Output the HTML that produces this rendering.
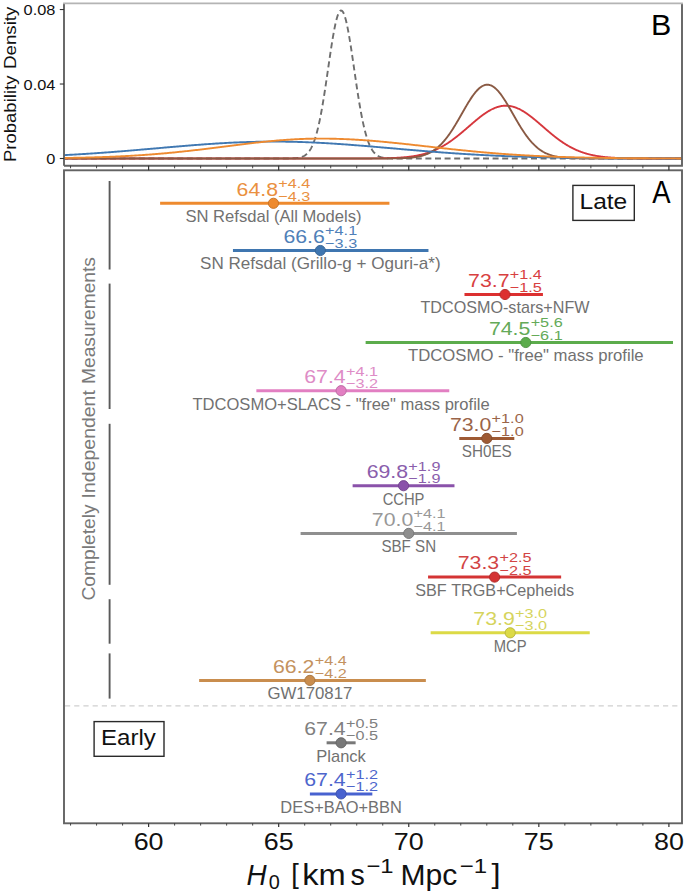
<!DOCTYPE html>
<html><head><meta charset="utf-8"><title>H0 measurements</title>
<style>html,body{margin:0;padding:0;background:#fff;overflow:hidden;} svg{display:block;} text{font-family:"Liberation Sans", sans-serif;font-kerning:none;}</style>
</head><body>
<svg width="685" height="895" viewBox="0 0 685 895"><clipPath id="cb"><rect x="64.0" y="3.4" width="618.0" height="162.29999999999998"/></clipPath>
<g clip-path="url(#cb)"><path d="M62.0,158.50 L62.5,158.50 L63.0,158.50 L63.5,158.50 L64.0,158.50 L64.5,158.50 L65.0,158.50 L65.5,158.50 L66.0,158.50 L66.5,158.50 L67.0,158.50 L67.5,158.50 L68.0,158.50 L68.5,158.50 L69.0,158.50 L69.5,158.50 L70.0,158.50 L70.5,158.50 L71.0,158.50 L71.5,158.50 L72.0,158.50 L72.5,158.50 L73.0,158.50 L73.5,158.50 L74.0,158.50 L74.5,158.50 L75.0,158.50 L75.5,158.50 L76.0,158.50 L76.5,158.50 L77.0,158.50 L77.5,158.50 L78.0,158.50 L78.5,158.50 L79.0,158.50 L79.5,158.50 L80.0,158.50 L80.5,158.50 L81.0,158.50 L81.5,158.50 L82.0,158.50 L82.5,158.50 L83.0,158.50 L83.5,158.50 L84.0,158.50 L84.5,158.50 L85.0,158.50 L85.5,158.50 L86.0,158.50 L86.5,158.50 L87.0,158.50 L87.5,158.50 L88.0,158.50 L88.5,158.50 L89.0,158.50 L89.5,158.50 L90.0,158.50 L90.5,158.50 L91.0,158.50 L91.5,158.50 L92.0,158.50 L92.5,158.50 L93.0,158.50 L93.5,158.50 L94.0,158.50 L94.5,158.50 L95.0,158.50 L95.5,158.50 L96.0,158.50 L96.5,158.50 L97.0,158.50 L97.5,158.50 L98.0,158.50 L98.5,158.50 L99.0,158.50 L99.5,158.50 L100.0,158.50 L100.5,158.50 L101.0,158.50 L101.5,158.50 L102.0,158.50 L102.5,158.50 L103.0,158.50 L103.5,158.50 L104.0,158.50 L104.5,158.50 L105.0,158.50 L105.5,158.50 L106.0,158.50 L106.5,158.50 L107.0,158.50 L107.5,158.50 L108.0,158.50 L108.5,158.50 L109.0,158.50 L109.5,158.50 L110.0,158.50 L110.5,158.50 L111.0,158.50 L111.5,158.50 L112.0,158.50 L112.5,158.50 L113.0,158.50 L113.5,158.50 L114.0,158.50 L114.5,158.50 L115.0,158.50 L115.5,158.50 L116.0,158.50 L116.5,158.50 L117.0,158.50 L117.5,158.50 L118.0,158.50 L118.5,158.50 L119.0,158.50 L119.5,158.50 L120.0,158.50 L120.5,158.50 L121.0,158.50 L121.5,158.50 L122.0,158.50 L122.5,158.50 L123.0,158.50 L123.5,158.50 L124.0,158.50 L124.5,158.50 L125.0,158.50 L125.5,158.50 L126.0,158.50 L126.5,158.50 L127.0,158.50 L127.5,158.50 L128.0,158.50 L128.5,158.50 L129.0,158.50 L129.5,158.50 L130.0,158.50 L130.5,158.50 L131.0,158.50 L131.5,158.50 L132.0,158.50 L132.5,158.50 L133.0,158.50 L133.5,158.50 L134.0,158.50 L134.5,158.50 L135.0,158.50 L135.5,158.50 L136.0,158.50 L136.5,158.50 L137.0,158.50 L137.5,158.50 L138.0,158.50 L138.5,158.50 L139.0,158.50 L139.5,158.50 L140.0,158.50 L140.5,158.50 L141.0,158.50 L141.5,158.50 L142.0,158.50 L142.5,158.50 L143.0,158.50 L143.5,158.50 L144.0,158.50 L144.5,158.50 L145.0,158.50 L145.5,158.50 L146.0,158.50 L146.5,158.50 L147.0,158.50 L147.5,158.50 L148.0,158.50 L148.5,158.50 L149.0,158.50 L149.5,158.50 L150.0,158.50 L150.5,158.50 L151.0,158.50 L151.5,158.50 L152.0,158.50 L152.5,158.50 L153.0,158.50 L153.5,158.50 L154.0,158.50 L154.5,158.50 L155.0,158.50 L155.5,158.50 L156.0,158.50 L156.5,158.50 L157.0,158.50 L157.5,158.50 L158.0,158.50 L158.5,158.50 L159.0,158.50 L159.5,158.50 L160.0,158.50 L160.5,158.50 L161.0,158.50 L161.5,158.50 L162.0,158.50 L162.5,158.50 L163.0,158.50 L163.5,158.50 L164.0,158.50 L164.5,158.50 L165.0,158.50 L165.5,158.50 L166.0,158.50 L166.5,158.50 L167.0,158.50 L167.5,158.50 L168.0,158.50 L168.5,158.50 L169.0,158.50 L169.5,158.50 L170.0,158.50 L170.5,158.50 L171.0,158.50 L171.5,158.50 L172.0,158.50 L172.5,158.50 L173.0,158.50 L173.5,158.50 L174.0,158.50 L174.5,158.50 L175.0,158.50 L175.5,158.50 L176.0,158.50 L176.5,158.50 L177.0,158.50 L177.5,158.50 L178.0,158.50 L178.5,158.50 L179.0,158.50 L179.5,158.50 L180.0,158.50 L180.5,158.50 L181.0,158.50 L181.5,158.50 L182.0,158.50 L182.5,158.50 L183.0,158.50 L183.5,158.50 L184.0,158.50 L184.5,158.50 L185.0,158.50 L185.5,158.50 L186.0,158.50 L186.5,158.50 L187.0,158.50 L187.5,158.50 L188.0,158.50 L188.5,158.50 L189.0,158.50 L189.5,158.50 L190.0,158.50 L190.5,158.50 L191.0,158.50 L191.5,158.50 L192.0,158.50 L192.5,158.50 L193.0,158.50 L193.5,158.50 L194.0,158.50 L194.5,158.50 L195.0,158.50 L195.5,158.50 L196.0,158.50 L196.5,158.50 L197.0,158.50 L197.5,158.50 L198.0,158.50 L198.5,158.50 L199.0,158.50 L199.5,158.50 L200.0,158.50 L200.5,158.50 L201.0,158.50 L201.5,158.50 L202.0,158.50 L202.5,158.50 L203.0,158.50 L203.5,158.50 L204.0,158.50 L204.5,158.50 L205.0,158.50 L205.5,158.50 L206.0,158.50 L206.5,158.50 L207.0,158.50 L207.5,158.50 L208.0,158.50 L208.5,158.50 L209.0,158.50 L209.5,158.50 L210.0,158.50 L210.5,158.50 L211.0,158.50 L211.5,158.50 L212.0,158.50 L212.5,158.50 L213.0,158.50 L213.5,158.50 L214.0,158.50 L214.5,158.50 L215.0,158.50 L215.5,158.50 L216.0,158.50 L216.5,158.50 L217.0,158.50 L217.5,158.50 L218.0,158.50 L218.5,158.50 L219.0,158.50 L219.5,158.50 L220.0,158.50 L220.5,158.50 L221.0,158.50 L221.5,158.50 L222.0,158.50 L222.5,158.50 L223.0,158.50 L223.5,158.50 L224.0,158.50 L224.5,158.50 L225.0,158.50 L225.5,158.50 L226.0,158.50 L226.5,158.50 L227.0,158.50 L227.5,158.50 L228.0,158.50 L228.5,158.50 L229.0,158.50 L229.5,158.50 L230.0,158.50 L230.5,158.50 L231.0,158.50 L231.5,158.50 L232.0,158.50 L232.5,158.50 L233.0,158.50 L233.5,158.50 L234.0,158.50 L234.5,158.50 L235.0,158.50 L235.5,158.50 L236.0,158.50 L236.5,158.50 L237.0,158.50 L237.5,158.50 L238.0,158.50 L238.5,158.50 L239.0,158.50 L239.5,158.50 L240.0,158.50 L240.5,158.50 L241.0,158.50 L241.5,158.50 L242.0,158.50 L242.5,158.50 L243.0,158.50 L243.5,158.50 L244.0,158.50 L244.5,158.50 L245.0,158.50 L245.5,158.50 L246.0,158.50 L246.5,158.50 L247.0,158.50 L247.5,158.50 L248.0,158.50 L248.5,158.50 L249.0,158.50 L249.5,158.50 L250.0,158.50 L250.5,158.50 L251.0,158.50 L251.5,158.50 L252.0,158.50 L252.5,158.50 L253.0,158.50 L253.5,158.50 L254.0,158.50 L254.5,158.50 L255.0,158.50 L255.5,158.50 L256.0,158.50 L256.5,158.50 L257.0,158.50 L257.5,158.50 L258.0,158.50 L258.5,158.50 L259.0,158.50 L259.5,158.50 L260.0,158.50 L260.5,158.50 L261.0,158.50 L261.5,158.50 L262.0,158.50 L262.5,158.50 L263.0,158.50 L263.5,158.50 L264.0,158.50 L264.5,158.50 L265.0,158.50 L265.5,158.50 L266.0,158.50 L266.5,158.50 L267.0,158.50 L267.5,158.50 L268.0,158.50 L268.5,158.50 L269.0,158.50 L269.5,158.50 L270.0,158.50 L270.5,158.50 L271.0,158.50 L271.5,158.50 L272.0,158.50 L272.5,158.50 L273.0,158.50 L273.5,158.50 L274.0,158.50 L274.5,158.50 L275.0,158.50 L275.5,158.50 L276.0,158.50 L276.5,158.50 L277.0,158.50 L277.5,158.50 L278.0,158.50 L278.5,158.50 L279.0,158.50 L279.5,158.50 L280.0,158.50 L280.5,158.50 L281.0,158.50 L281.5,158.50 L282.0,158.50 L282.5,158.49 L283.0,158.49 L283.5,158.49 L284.0,158.49 L284.5,158.49 L285.0,158.49 L285.5,158.48 L286.0,158.48 L286.5,158.48 L287.0,158.47 L287.5,158.47 L288.0,158.46 L288.5,158.46 L289.0,158.45 L289.5,158.44 L290.0,158.43 L290.5,158.42 L291.0,158.41 L291.5,158.40 L292.0,158.38 L292.5,158.36 L293.0,158.34 L293.5,158.32 L294.0,158.29 L294.5,158.26 L295.0,158.22 L295.5,158.18 L296.0,158.14 L296.5,158.09 L297.0,158.03 L297.5,157.96 L298.0,157.89 L298.5,157.81 L299.0,157.72 L299.5,157.61 L300.0,157.50 L300.5,157.37 L301.0,157.23 L301.5,157.07 L302.0,156.89 L302.5,156.69 L303.0,156.48 L303.5,156.24 L304.0,155.97 L304.5,155.68 L305.0,155.36 L305.5,155.01 L306.0,154.63 L306.5,154.21 L307.0,153.75 L307.5,153.25 L308.0,152.70 L308.5,152.11 L309.0,151.47 L309.5,150.78 L310.0,150.03 L310.5,149.22 L311.0,148.35 L311.5,147.41 L312.0,146.40 L312.5,145.33 L313.0,144.18 L313.5,142.95 L314.0,141.64 L314.5,140.24 L315.0,138.76 L315.5,137.20 L316.0,135.54 L316.5,133.79 L317.0,131.94 L317.5,130.00 L318.0,127.97 L318.5,125.83 L319.0,123.60 L319.5,121.27 L320.0,118.85 L320.5,116.33 L321.0,113.71 L321.5,111.00 L322.0,108.21 L322.5,105.32 L323.0,102.36 L323.5,99.31 L324.0,96.20 L324.5,93.02 L325.0,89.77 L325.5,86.47 L326.0,83.13 L326.5,79.75 L327.0,76.33 L327.5,72.90 L328.0,69.45 L328.5,66.00 L329.0,62.56 L329.5,59.13 L330.0,55.74 L330.5,52.39 L331.0,49.09 L331.5,45.86 L332.0,42.70 L332.5,39.62 L333.0,36.65 L333.5,33.79 L334.0,31.04 L334.5,28.43 L335.0,25.96 L335.5,23.65 L336.0,21.50 L336.5,19.51 L337.0,17.71 L337.5,16.09 L338.0,14.67 L338.5,13.45 L339.0,12.44 L339.5,11.63 L340.0,11.04 L340.5,10.66 L341.0,10.51 L341.5,10.57 L342.0,10.85 L342.5,11.34 L343.0,12.05 L343.5,12.98 L344.0,14.11 L344.5,15.44 L345.0,16.97 L345.5,18.69 L346.0,20.59 L346.5,22.67 L347.0,24.92 L347.5,27.32 L348.0,29.87 L348.5,32.55 L349.0,35.36 L349.5,38.29 L350.0,41.32 L350.5,44.44 L351.0,47.65 L351.5,50.92 L352.0,54.25 L352.5,57.62 L353.0,61.03 L353.5,64.47 L354.0,67.92 L354.5,71.37 L355.0,74.81 L355.5,78.23 L356.0,81.63 L356.5,84.99 L357.0,88.31 L357.5,91.58 L358.0,94.79 L358.5,97.94 L359.0,101.02 L359.5,104.02 L360.0,106.94 L360.5,109.77 L361.0,112.52 L361.5,115.18 L362.0,117.74 L362.5,120.21 L363.0,122.58 L363.5,124.85 L364.0,127.03 L364.5,129.11 L365.0,131.09 L365.5,132.98 L366.0,134.77 L366.5,136.47 L367.0,138.08 L367.5,139.60 L368.0,141.03 L368.5,142.38 L369.0,143.64 L369.5,144.83 L370.0,145.94 L370.5,146.97 L371.0,147.94 L371.5,148.84 L372.0,149.67 L372.5,150.45 L373.0,151.17 L373.5,151.83 L374.0,152.45 L374.5,153.01 L375.0,153.53 L375.5,154.01 L376.0,154.44 L376.5,154.84 L377.0,155.21 L377.5,155.54 L378.0,155.85 L378.5,156.12 L379.0,156.37 L379.5,156.60 L380.0,156.80 L380.5,156.99 L381.0,157.16 L381.5,157.31 L382.0,157.44 L382.5,157.56 L383.0,157.67 L383.5,157.77 L384.0,157.86 L384.5,157.93 L385.0,158.00 L385.5,158.06 L386.0,158.12 L386.5,158.16 L387.0,158.21 L387.5,158.24 L388.0,158.28 L388.5,158.31 L389.0,158.33 L389.5,158.35 L390.0,158.37 L390.5,158.39 L391.0,158.41 L391.5,158.42 L392.0,158.43 L392.5,158.44 L393.0,158.45 L393.5,158.46 L394.0,158.46 L394.5,158.47 L395.0,158.47 L395.5,158.48 L396.0,158.48 L396.5,158.48 L397.0,158.49 L397.5,158.49 L398.0,158.49 L398.5,158.49 L399.0,158.49 L399.5,158.49 L400.0,158.49 L400.5,158.50 L401.0,158.50 L401.5,158.50 L402.0,158.50 L402.5,158.50 L403.0,158.50 L403.5,158.50 L404.0,158.50 L404.5,158.50 L405.0,158.50 L405.5,158.50 L406.0,158.50 L406.5,158.50 L407.0,158.50 L407.5,158.50 L408.0,158.50 L408.5,158.50 L409.0,158.50 L409.5,158.50 L410.0,158.50 L410.5,158.50 L411.0,158.50 L411.5,158.50 L412.0,158.50 L412.5,158.50 L413.0,158.50 L413.5,158.50 L414.0,158.50 L414.5,158.50 L415.0,158.50 L415.5,158.50 L416.0,158.50 L416.5,158.50 L417.0,158.50 L417.5,158.50 L418.0,158.50 L418.5,158.50 L419.0,158.50 L419.5,158.50 L420.0,158.50 L420.5,158.50 L421.0,158.50 L421.5,158.50 L422.0,158.50 L422.5,158.50 L423.0,158.50 L423.5,158.50 L424.0,158.50 L424.5,158.50 L425.0,158.50 L425.5,158.50 L426.0,158.50 L426.5,158.50 L427.0,158.50 L427.5,158.50 L428.0,158.50 L428.5,158.50 L429.0,158.50 L429.5,158.50 L430.0,158.50 L430.5,158.50 L431.0,158.50 L431.5,158.50 L432.0,158.50 L432.5,158.50 L433.0,158.50 L433.5,158.50 L434.0,158.50 L434.5,158.50 L435.0,158.50 L435.5,158.50 L436.0,158.50 L436.5,158.50 L437.0,158.50 L437.5,158.50 L438.0,158.50 L438.5,158.50 L439.0,158.50 L439.5,158.50 L440.0,158.50 L440.5,158.50 L441.0,158.50 L441.5,158.50 L442.0,158.50 L442.5,158.50 L443.0,158.50 L443.5,158.50 L444.0,158.50 L444.5,158.50 L445.0,158.50 L445.5,158.50 L446.0,158.50 L446.5,158.50 L447.0,158.50 L447.5,158.50 L448.0,158.50 L448.5,158.50 L449.0,158.50 L449.5,158.50 L450.0,158.50 L450.5,158.50 L451.0,158.50 L451.5,158.50 L452.0,158.50 L452.5,158.50 L453.0,158.50 L453.5,158.50 L454.0,158.50 L454.5,158.50 L455.0,158.50 L455.5,158.50 L456.0,158.50 L456.5,158.50 L457.0,158.50 L457.5,158.50 L458.0,158.50 L458.5,158.50 L459.0,158.50 L459.5,158.50 L460.0,158.50 L460.5,158.50 L461.0,158.50 L461.5,158.50 L462.0,158.50 L462.5,158.50 L463.0,158.50 L463.5,158.50 L464.0,158.50 L464.5,158.50 L465.0,158.50 L465.5,158.50 L466.0,158.50 L466.5,158.50 L467.0,158.50 L467.5,158.50 L468.0,158.50 L468.5,158.50 L469.0,158.50 L469.5,158.50 L470.0,158.50 L470.5,158.50 L471.0,158.50 L471.5,158.50 L472.0,158.50 L472.5,158.50 L473.0,158.50 L473.5,158.50 L474.0,158.50 L474.5,158.50 L475.0,158.50 L475.5,158.50 L476.0,158.50 L476.5,158.50 L477.0,158.50 L477.5,158.50 L478.0,158.50 L478.5,158.50 L479.0,158.50 L479.5,158.50 L480.0,158.50 L480.5,158.50 L481.0,158.50 L481.5,158.50 L482.0,158.50 L482.5,158.50 L483.0,158.50 L483.5,158.50 L484.0,158.50 L484.5,158.50 L485.0,158.50 L485.5,158.50 L486.0,158.50 L486.5,158.50 L487.0,158.50 L487.5,158.50 L488.0,158.50 L488.5,158.50 L489.0,158.50 L489.5,158.50 L490.0,158.50 L490.5,158.50 L491.0,158.50 L491.5,158.50 L492.0,158.50 L492.5,158.50 L493.0,158.50 L493.5,158.50 L494.0,158.50 L494.5,158.50 L495.0,158.50 L495.5,158.50 L496.0,158.50 L496.5,158.50 L497.0,158.50 L497.5,158.50 L498.0,158.50 L498.5,158.50 L499.0,158.50 L499.5,158.50 L500.0,158.50 L500.5,158.50 L501.0,158.50 L501.5,158.50 L502.0,158.50 L502.5,158.50 L503.0,158.50 L503.5,158.50 L504.0,158.50 L504.5,158.50 L505.0,158.50 L505.5,158.50 L506.0,158.50 L506.5,158.50 L507.0,158.50 L507.5,158.50 L508.0,158.50 L508.5,158.50 L509.0,158.50 L509.5,158.50 L510.0,158.50 L510.5,158.50 L511.0,158.50 L511.5,158.50 L512.0,158.50 L512.5,158.50 L513.0,158.50 L513.5,158.50 L514.0,158.50 L514.5,158.50 L515.0,158.50 L515.5,158.50 L516.0,158.50 L516.5,158.50 L517.0,158.50 L517.5,158.50 L518.0,158.50 L518.5,158.50 L519.0,158.50 L519.5,158.50 L520.0,158.50 L520.5,158.50 L521.0,158.50 L521.5,158.50 L522.0,158.50 L522.5,158.50 L523.0,158.50 L523.5,158.50 L524.0,158.50 L524.5,158.50 L525.0,158.50 L525.5,158.50 L526.0,158.50 L526.5,158.50 L527.0,158.50 L527.5,158.50 L528.0,158.50 L528.5,158.50 L529.0,158.50 L529.5,158.50 L530.0,158.50 L530.5,158.50 L531.0,158.50 L531.5,158.50 L532.0,158.50 L532.5,158.50 L533.0,158.50 L533.5,158.50 L534.0,158.50 L534.5,158.50 L535.0,158.50 L535.5,158.50 L536.0,158.50 L536.5,158.50 L537.0,158.50 L537.5,158.50 L538.0,158.50 L538.5,158.50 L539.0,158.50 L539.5,158.50 L540.0,158.50 L540.5,158.50 L541.0,158.50 L541.5,158.50 L542.0,158.50 L542.5,158.50 L543.0,158.50 L543.5,158.50 L544.0,158.50 L544.5,158.50 L545.0,158.50 L545.5,158.50 L546.0,158.50 L546.5,158.50 L547.0,158.50 L547.5,158.50 L548.0,158.50 L548.5,158.50 L549.0,158.50 L549.5,158.50 L550.0,158.50 L550.5,158.50 L551.0,158.50 L551.5,158.50 L552.0,158.50 L552.5,158.50 L553.0,158.50 L553.5,158.50 L554.0,158.50 L554.5,158.50 L555.0,158.50 L555.5,158.50 L556.0,158.50 L556.5,158.50 L557.0,158.50 L557.5,158.50 L558.0,158.50 L558.5,158.50 L559.0,158.50 L559.5,158.50 L560.0,158.50 L560.5,158.50 L561.0,158.50 L561.5,158.50 L562.0,158.50 L562.5,158.50 L563.0,158.50 L563.5,158.50 L564.0,158.50 L564.5,158.50 L565.0,158.50 L565.5,158.50 L566.0,158.50 L566.5,158.50 L567.0,158.50 L567.5,158.50 L568.0,158.50 L568.5,158.50 L569.0,158.50 L569.5,158.50 L570.0,158.50 L570.5,158.50 L571.0,158.50 L571.5,158.50 L572.0,158.50 L572.5,158.50 L573.0,158.50 L573.5,158.50 L574.0,158.50 L574.5,158.50 L575.0,158.50 L575.5,158.50 L576.0,158.50 L576.5,158.50 L577.0,158.50 L577.5,158.50 L578.0,158.50 L578.5,158.50 L579.0,158.50 L579.5,158.50 L580.0,158.50 L580.5,158.50 L581.0,158.50 L581.5,158.50 L582.0,158.50 L582.5,158.50 L583.0,158.50 L583.5,158.50 L584.0,158.50 L584.5,158.50 L585.0,158.50 L585.5,158.50 L586.0,158.50 L586.5,158.50 L587.0,158.50 L587.5,158.50 L588.0,158.50 L588.5,158.50 L589.0,158.50 L589.5,158.50 L590.0,158.50 L590.5,158.50 L591.0,158.50 L591.5,158.50 L592.0,158.50 L592.5,158.50 L593.0,158.50 L593.5,158.50 L594.0,158.50 L594.5,158.50 L595.0,158.50 L595.5,158.50 L596.0,158.50 L596.5,158.50 L597.0,158.50 L597.5,158.50 L598.0,158.50 L598.5,158.50 L599.0,158.50 L599.5,158.50 L600.0,158.50 L600.5,158.50 L601.0,158.50 L601.5,158.50 L602.0,158.50 L602.5,158.50 L603.0,158.50 L603.5,158.50 L604.0,158.50 L604.5,158.50 L605.0,158.50 L605.5,158.50 L606.0,158.50 L606.5,158.50 L607.0,158.50 L607.5,158.50 L608.0,158.50 L608.5,158.50 L609.0,158.50 L609.5,158.50 L610.0,158.50 L610.5,158.50 L611.0,158.50 L611.5,158.50 L612.0,158.50 L612.5,158.50 L613.0,158.50 L613.5,158.50 L614.0,158.50 L614.5,158.50 L615.0,158.50 L615.5,158.50 L616.0,158.50 L616.5,158.50 L617.0,158.50 L617.5,158.50 L618.0,158.50 L618.5,158.50 L619.0,158.50 L619.5,158.50 L620.0,158.50 L620.5,158.50 L621.0,158.50 L621.5,158.50 L622.0,158.50 L622.5,158.50 L623.0,158.50 L623.5,158.50 L624.0,158.50 L624.5,158.50 L625.0,158.50 L625.5,158.50 L626.0,158.50 L626.5,158.50 L627.0,158.50 L627.5,158.50 L628.0,158.50 L628.5,158.50 L629.0,158.50 L629.5,158.50 L630.0,158.50 L630.5,158.50 L631.0,158.50 L631.5,158.50 L632.0,158.50 L632.5,158.50 L633.0,158.50 L633.5,158.50 L634.0,158.50 L634.5,158.50 L635.0,158.50 L635.5,158.50 L636.0,158.50 L636.5,158.50 L637.0,158.50 L637.5,158.50 L638.0,158.50 L638.5,158.50 L639.0,158.50 L639.5,158.50 L640.0,158.50 L640.5,158.50 L641.0,158.50 L641.5,158.50 L642.0,158.50 L642.5,158.50 L643.0,158.50 L643.5,158.50 L644.0,158.50 L644.5,158.50 L645.0,158.50 L645.5,158.50 L646.0,158.50 L646.5,158.50 L647.0,158.50 L647.5,158.50 L648.0,158.50 L648.5,158.50 L649.0,158.50 L649.5,158.50 L650.0,158.50 L650.5,158.50 L651.0,158.50 L651.5,158.50 L652.0,158.50 L652.5,158.50 L653.0,158.50 L653.5,158.50 L654.0,158.50 L654.5,158.50 L655.0,158.50 L655.5,158.50 L656.0,158.50 L656.5,158.50 L657.0,158.50 L657.5,158.50 L658.0,158.50 L658.5,158.50 L659.0,158.50 L659.5,158.50 L660.0,158.50 L660.5,158.50 L661.0,158.50 L661.5,158.50 L662.0,158.50 L662.5,158.50 L663.0,158.50 L663.5,158.50 L664.0,158.50 L664.5,158.50 L665.0,158.50 L665.5,158.50 L666.0,158.50 L666.5,158.50 L667.0,158.50 L667.5,158.50 L668.0,158.50 L668.5,158.50 L669.0,158.50 L669.5,158.50 L670.0,158.50 L670.5,158.50 L671.0,158.50 L671.5,158.50 L672.0,158.50 L672.5,158.50 L673.0,158.50 L673.5,158.50 L674.0,158.50 L674.5,158.50 L675.0,158.50 L675.5,158.50 L676.0,158.50 L676.5,158.50 L677.0,158.50 L677.5,158.50 L678.0,158.50 L678.5,158.50 L679.0,158.50 L679.5,158.50 L680.0,158.50 L680.5,158.50 L681.0,158.50 L681.5,158.50 L682.0,158.50 L682.5,158.50 L683.0,158.50 L683.5,158.50 L684.0,158.50" fill="none" stroke="#6e6e6e" stroke-width="1.9" stroke-dasharray="6,3.6"/><path d="M62.0,158.50 L62.5,158.50 L63.0,158.50 L63.5,158.50 L64.0,158.50 L64.5,158.50 L65.0,158.50 L65.5,158.50 L66.0,158.50 L66.5,158.50 L67.0,158.50 L67.5,158.50 L68.0,158.50 L68.5,158.50 L69.0,158.50 L69.5,158.50 L70.0,158.50 L70.5,158.50 L71.0,158.50 L71.5,158.50 L72.0,158.50 L72.5,158.50 L73.0,158.50 L73.5,158.50 L74.0,158.50 L74.5,158.50 L75.0,158.50 L75.5,158.50 L76.0,158.50 L76.5,158.50 L77.0,158.50 L77.5,158.50 L78.0,158.50 L78.5,158.50 L79.0,158.50 L79.5,158.50 L80.0,158.50 L80.5,158.50 L81.0,158.50 L81.5,158.50 L82.0,158.50 L82.5,158.50 L83.0,158.50 L83.5,158.50 L84.0,158.50 L84.5,158.50 L85.0,158.50 L85.5,158.50 L86.0,158.50 L86.5,158.50 L87.0,158.50 L87.5,158.50 L88.0,158.50 L88.5,158.50 L89.0,158.50 L89.5,158.50 L90.0,158.50 L90.5,158.50 L91.0,158.50 L91.5,158.50 L92.0,158.50 L92.5,158.50 L93.0,158.50 L93.5,158.50 L94.0,158.50 L94.5,158.50 L95.0,158.50 L95.5,158.50 L96.0,158.50 L96.5,158.50 L97.0,158.50 L97.5,158.50 L98.0,158.50 L98.5,158.50 L99.0,158.50 L99.5,158.50 L100.0,158.50 L100.5,158.50 L101.0,158.50 L101.5,158.50 L102.0,158.50 L102.5,158.50 L103.0,158.50 L103.5,158.50 L104.0,158.50 L104.5,158.50 L105.0,158.50 L105.5,158.50 L106.0,158.50 L106.5,158.50 L107.0,158.50 L107.5,158.50 L108.0,158.50 L108.5,158.50 L109.0,158.50 L109.5,158.50 L110.0,158.50 L110.5,158.50 L111.0,158.50 L111.5,158.50 L112.0,158.50 L112.5,158.50 L113.0,158.50 L113.5,158.50 L114.0,158.50 L114.5,158.50 L115.0,158.50 L115.5,158.50 L116.0,158.50 L116.5,158.50 L117.0,158.50 L117.5,158.50 L118.0,158.50 L118.5,158.50 L119.0,158.50 L119.5,158.50 L120.0,158.50 L120.5,158.50 L121.0,158.50 L121.5,158.50 L122.0,158.50 L122.5,158.50 L123.0,158.50 L123.5,158.50 L124.0,158.50 L124.5,158.50 L125.0,158.50 L125.5,158.50 L126.0,158.50 L126.5,158.50 L127.0,158.50 L127.5,158.50 L128.0,158.50 L128.5,158.50 L129.0,158.50 L129.5,158.50 L130.0,158.50 L130.5,158.50 L131.0,158.50 L131.5,158.50 L132.0,158.50 L132.5,158.50 L133.0,158.50 L133.5,158.50 L134.0,158.50 L134.5,158.50 L135.0,158.50 L135.5,158.50 L136.0,158.50 L136.5,158.50 L137.0,158.50 L137.5,158.50 L138.0,158.50 L138.5,158.50 L139.0,158.50 L139.5,158.50 L140.0,158.50 L140.5,158.50 L141.0,158.50 L141.5,158.50 L142.0,158.50 L142.5,158.50 L143.0,158.50 L143.5,158.50 L144.0,158.50 L144.5,158.50 L145.0,158.50 L145.5,158.50 L146.0,158.50 L146.5,158.50 L147.0,158.50 L147.5,158.50 L148.0,158.50 L148.5,158.50 L149.0,158.50 L149.5,158.50 L150.0,158.50 L150.5,158.50 L151.0,158.50 L151.5,158.50 L152.0,158.50 L152.5,158.50 L153.0,158.50 L153.5,158.50 L154.0,158.50 L154.5,158.50 L155.0,158.50 L155.5,158.50 L156.0,158.50 L156.5,158.50 L157.0,158.50 L157.5,158.50 L158.0,158.50 L158.5,158.50 L159.0,158.50 L159.5,158.50 L160.0,158.50 L160.5,158.50 L161.0,158.50 L161.5,158.50 L162.0,158.50 L162.5,158.50 L163.0,158.50 L163.5,158.50 L164.0,158.50 L164.5,158.50 L165.0,158.50 L165.5,158.50 L166.0,158.50 L166.5,158.50 L167.0,158.50 L167.5,158.50 L168.0,158.50 L168.5,158.50 L169.0,158.50 L169.5,158.50 L170.0,158.50 L170.5,158.50 L171.0,158.50 L171.5,158.50 L172.0,158.50 L172.5,158.50 L173.0,158.50 L173.5,158.50 L174.0,158.50 L174.5,158.50 L175.0,158.50 L175.5,158.50 L176.0,158.50 L176.5,158.50 L177.0,158.50 L177.5,158.50 L178.0,158.50 L178.5,158.50 L179.0,158.50 L179.5,158.50 L180.0,158.50 L180.5,158.50 L181.0,158.50 L181.5,158.50 L182.0,158.50 L182.5,158.50 L183.0,158.50 L183.5,158.50 L184.0,158.50 L184.5,158.50 L185.0,158.50 L185.5,158.50 L186.0,158.50 L186.5,158.50 L187.0,158.50 L187.5,158.50 L188.0,158.50 L188.5,158.50 L189.0,158.50 L189.5,158.50 L190.0,158.50 L190.5,158.50 L191.0,158.50 L191.5,158.50 L192.0,158.50 L192.5,158.50 L193.0,158.50 L193.5,158.50 L194.0,158.50 L194.5,158.50 L195.0,158.50 L195.5,158.50 L196.0,158.50 L196.5,158.50 L197.0,158.50 L197.5,158.50 L198.0,158.50 L198.5,158.50 L199.0,158.50 L199.5,158.50 L200.0,158.50 L200.5,158.50 L201.0,158.50 L201.5,158.50 L202.0,158.50 L202.5,158.50 L203.0,158.50 L203.5,158.50 L204.0,158.50 L204.5,158.50 L205.0,158.50 L205.5,158.50 L206.0,158.50 L206.5,158.50 L207.0,158.50 L207.5,158.50 L208.0,158.50 L208.5,158.50 L209.0,158.50 L209.5,158.50 L210.0,158.50 L210.5,158.50 L211.0,158.50 L211.5,158.50 L212.0,158.50 L212.5,158.50 L213.0,158.50 L213.5,158.50 L214.0,158.50 L214.5,158.50 L215.0,158.50 L215.5,158.50 L216.0,158.50 L216.5,158.50 L217.0,158.50 L217.5,158.50 L218.0,158.50 L218.5,158.50 L219.0,158.50 L219.5,158.50 L220.0,158.50 L220.5,158.50 L221.0,158.50 L221.5,158.50 L222.0,158.50 L222.5,158.50 L223.0,158.50 L223.5,158.50 L224.0,158.50 L224.5,158.50 L225.0,158.50 L225.5,158.50 L226.0,158.50 L226.5,158.50 L227.0,158.50 L227.5,158.50 L228.0,158.50 L228.5,158.50 L229.0,158.50 L229.5,158.50 L230.0,158.50 L230.5,158.50 L231.0,158.50 L231.5,158.50 L232.0,158.50 L232.5,158.50 L233.0,158.50 L233.5,158.50 L234.0,158.50 L234.5,158.50 L235.0,158.50 L235.5,158.50 L236.0,158.50 L236.5,158.50 L237.0,158.50 L237.5,158.50 L238.0,158.50 L238.5,158.50 L239.0,158.50 L239.5,158.50 L240.0,158.50 L240.5,158.50 L241.0,158.50 L241.5,158.50 L242.0,158.50 L242.5,158.50 L243.0,158.50 L243.5,158.50 L244.0,158.50 L244.5,158.50 L245.0,158.50 L245.5,158.50 L246.0,158.50 L246.5,158.50 L247.0,158.50 L247.5,158.50 L248.0,158.50 L248.5,158.50 L249.0,158.50 L249.5,158.50 L250.0,158.50 L250.5,158.50 L251.0,158.50 L251.5,158.50 L252.0,158.50 L252.5,158.50 L253.0,158.50 L253.5,158.50 L254.0,158.50 L254.5,158.50 L255.0,158.50 L255.5,158.50 L256.0,158.50 L256.5,158.50 L257.0,158.50 L257.5,158.50 L258.0,158.50 L258.5,158.50 L259.0,158.50 L259.5,158.50 L260.0,158.50 L260.5,158.50 L261.0,158.50 L261.5,158.50 L262.0,158.50 L262.5,158.50 L263.0,158.50 L263.5,158.50 L264.0,158.50 L264.5,158.50 L265.0,158.50 L265.5,158.50 L266.0,158.50 L266.5,158.50 L267.0,158.50 L267.5,158.50 L268.0,158.50 L268.5,158.50 L269.0,158.50 L269.5,158.50 L270.0,158.50 L270.5,158.50 L271.0,158.50 L271.5,158.50 L272.0,158.50 L272.5,158.50 L273.0,158.50 L273.5,158.50 L274.0,158.50 L274.5,158.50 L275.0,158.50 L275.5,158.50 L276.0,158.50 L276.5,158.50 L277.0,158.50 L277.5,158.50 L278.0,158.50 L278.5,158.50 L279.0,158.50 L279.5,158.50 L280.0,158.50 L280.5,158.50 L281.0,158.50 L281.5,158.50 L282.0,158.50 L282.5,158.50 L283.0,158.50 L283.5,158.50 L284.0,158.50 L284.5,158.50 L285.0,158.50 L285.5,158.50 L286.0,158.50 L286.5,158.50 L287.0,158.50 L287.5,158.50 L288.0,158.50 L288.5,158.50 L289.0,158.50 L289.5,158.50 L290.0,158.50 L290.5,158.50 L291.0,158.50 L291.5,158.50 L292.0,158.50 L292.5,158.50 L293.0,158.50 L293.5,158.50 L294.0,158.50 L294.5,158.50 L295.0,158.50 L295.5,158.50 L296.0,158.50 L296.5,158.50 L297.0,158.50 L297.5,158.50 L298.0,158.50 L298.5,158.50 L299.0,158.50 L299.5,158.50 L300.0,158.50 L300.5,158.50 L301.0,158.50 L301.5,158.50 L302.0,158.50 L302.5,158.50 L303.0,158.50 L303.5,158.50 L304.0,158.50 L304.5,158.50 L305.0,158.50 L305.5,158.50 L306.0,158.50 L306.5,158.50 L307.0,158.50 L307.5,158.50 L308.0,158.50 L308.5,158.50 L309.0,158.50 L309.5,158.50 L310.0,158.50 L310.5,158.50 L311.0,158.50 L311.5,158.50 L312.0,158.50 L312.5,158.50 L313.0,158.50 L313.5,158.50 L314.0,158.50 L314.5,158.50 L315.0,158.50 L315.5,158.50 L316.0,158.50 L316.5,158.50 L317.0,158.50 L317.5,158.50 L318.0,158.50 L318.5,158.50 L319.0,158.50 L319.5,158.50 L320.0,158.50 L320.5,158.50 L321.0,158.50 L321.5,158.50 L322.0,158.50 L322.5,158.50 L323.0,158.50 L323.5,158.50 L324.0,158.50 L324.5,158.50 L325.0,158.50 L325.5,158.50 L326.0,158.50 L326.5,158.50 L327.0,158.50 L327.5,158.50 L328.0,158.50 L328.5,158.50 L329.0,158.50 L329.5,158.50 L330.0,158.50 L330.5,158.50 L331.0,158.50 L331.5,158.50 L332.0,158.50 L332.5,158.50 L333.0,158.50 L333.5,158.50 L334.0,158.50 L334.5,158.50 L335.0,158.50 L335.5,158.50 L336.0,158.50 L336.5,158.50 L337.0,158.50 L337.5,158.50 L338.0,158.50 L338.5,158.50 L339.0,158.50 L339.5,158.50 L340.0,158.50 L340.5,158.50 L341.0,158.50 L341.5,158.50 L342.0,158.50 L342.5,158.50 L343.0,158.50 L343.5,158.50 L344.0,158.50 L344.5,158.50 L345.0,158.50 L345.5,158.50 L346.0,158.50 L346.5,158.50 L347.0,158.49 L347.5,158.49 L348.0,158.49 L348.5,158.49 L349.0,158.49 L349.5,158.49 L350.0,158.49 L350.5,158.49 L351.0,158.49 L351.5,158.49 L352.0,158.49 L352.5,158.49 L353.0,158.49 L353.5,158.49 L354.0,158.49 L354.5,158.49 L355.0,158.49 L355.5,158.49 L356.0,158.49 L356.5,158.48 L357.0,158.48 L357.5,158.48 L358.0,158.48 L358.5,158.48 L359.0,158.48 L359.5,158.48 L360.0,158.48 L360.5,158.48 L361.0,158.48 L361.5,158.47 L362.0,158.47 L362.5,158.47 L363.0,158.47 L363.5,158.47 L364.0,158.47 L364.5,158.46 L365.0,158.46 L365.5,158.46 L366.0,158.46 L366.5,158.46 L367.0,158.45 L367.5,158.45 L368.0,158.45 L368.5,158.45 L369.0,158.44 L369.5,158.44 L370.0,158.44 L370.5,158.44 L371.0,158.43 L371.5,158.43 L372.0,158.43 L372.5,158.42 L373.0,158.42 L373.5,158.41 L374.0,158.41 L374.5,158.40 L375.0,158.40 L375.5,158.39 L376.0,158.39 L376.5,158.38 L377.0,158.38 L377.5,158.37 L378.0,158.37 L378.5,158.36 L379.0,158.35 L379.5,158.35 L380.0,158.34 L380.5,158.33 L381.0,158.32 L381.5,158.32 L382.0,158.31 L382.5,158.30 L383.0,158.29 L383.5,158.28 L384.0,158.27 L384.5,158.26 L385.0,158.25 L385.5,158.24 L386.0,158.22 L386.5,158.21 L387.0,158.20 L387.5,158.19 L388.0,158.17 L388.5,158.16 L389.0,158.14 L389.5,158.13 L390.0,158.11 L390.5,158.09 L391.0,158.08 L391.5,158.06 L392.0,158.04 L392.5,158.02 L393.0,158.00 L393.5,157.98 L394.0,157.96 L394.5,157.94 L395.0,157.91 L395.5,157.89 L396.0,157.86 L396.5,157.84 L397.0,157.81 L397.5,157.78 L398.0,157.75 L398.5,157.72 L399.0,157.69 L399.5,157.66 L400.0,157.63 L400.5,157.59 L401.0,157.55 L401.5,157.52 L402.0,157.48 L402.5,157.44 L403.0,157.40 L403.5,157.36 L404.0,157.31 L404.5,157.27 L405.0,157.22 L405.5,157.17 L406.0,157.13 L406.5,157.07 L407.0,157.02 L407.5,156.97 L408.0,156.91 L408.5,156.85 L409.0,156.79 L409.5,156.73 L410.0,156.67 L410.5,156.60 L411.0,156.54 L411.5,156.47 L412.0,156.40 L412.5,156.32 L413.0,156.25 L413.5,156.17 L414.0,156.09 L414.5,156.01 L415.0,155.92 L415.5,155.84 L416.0,155.75 L416.5,155.65 L417.0,155.56 L417.5,155.46 L418.0,155.36 L418.5,155.26 L419.0,155.16 L419.5,155.05 L420.0,154.94 L420.5,154.83 L421.0,154.71 L421.5,154.59 L422.0,154.47 L422.5,154.34 L423.0,154.21 L423.5,154.08 L424.0,153.95 L424.5,153.81 L425.0,153.67 L425.5,153.52 L426.0,153.37 L426.5,153.22 L427.0,153.07 L427.5,152.91 L428.0,152.75 L428.5,152.58 L429.0,152.41 L429.5,152.24 L430.0,152.06 L430.5,151.88 L431.0,151.70 L431.5,151.51 L432.0,151.32 L432.5,151.12 L433.0,150.92 L433.5,150.72 L434.0,150.51 L434.5,150.30 L435.0,150.08 L435.5,149.86 L436.0,149.63 L436.5,149.41 L437.0,149.17 L437.5,148.94 L438.0,148.69 L438.5,148.45 L439.0,148.20 L439.5,147.94 L440.0,147.69 L440.5,147.42 L441.0,147.16 L441.5,146.88 L442.0,146.61 L442.5,146.33 L443.0,146.04 L443.5,145.76 L444.0,145.46 L444.5,145.17 L445.0,144.86 L445.5,144.56 L446.0,144.25 L446.5,143.93 L447.0,143.62 L447.5,143.29 L448.0,142.97 L448.5,142.63 L449.0,142.30 L449.5,141.96 L450.0,141.62 L450.5,141.27 L451.0,140.92 L451.5,140.56 L452.0,140.21 L452.5,139.84 L453.0,139.48 L453.5,139.11 L454.0,138.73 L454.5,138.36 L455.0,137.98 L455.5,137.59 L456.0,137.21 L456.5,136.82 L457.0,136.42 L457.5,136.03 L458.0,135.63 L458.5,135.23 L459.0,134.82 L459.5,134.42 L460.0,134.01 L460.5,133.59 L461.0,133.18 L461.5,132.76 L462.0,132.34 L462.5,131.92 L463.0,131.50 L463.5,131.08 L464.0,130.65 L464.5,130.22 L465.0,129.80 L465.5,129.37 L466.0,128.94 L466.5,128.51 L467.0,128.07 L467.5,127.64 L468.0,127.21 L468.5,126.77 L469.0,126.34 L469.5,125.91 L470.0,125.47 L470.5,125.04 L471.0,124.61 L471.5,124.18 L472.0,123.75 L472.5,123.32 L473.0,122.89 L473.5,122.46 L474.0,122.04 L474.5,121.61 L475.0,121.19 L475.5,120.77 L476.0,120.35 L476.5,119.94 L477.0,119.53 L477.5,119.12 L478.0,118.71 L478.5,118.31 L479.0,117.91 L479.5,117.51 L480.0,117.12 L480.5,116.73 L481.0,116.34 L481.5,115.96 L482.0,115.59 L482.5,115.21 L483.0,114.85 L483.5,114.48 L484.0,114.13 L484.5,113.78 L485.0,113.43 L485.5,113.09 L486.0,112.76 L486.5,112.43 L487.0,112.10 L487.5,111.79 L488.0,111.48 L488.5,111.18 L489.0,110.88 L489.5,110.59 L490.0,110.31 L490.5,110.03 L491.0,109.76 L491.5,109.50 L492.0,109.25 L492.5,109.01 L493.0,108.77 L493.5,108.54 L494.0,108.32 L494.5,108.11 L495.0,107.90 L495.5,107.71 L496.0,107.52 L496.5,107.34 L497.0,107.17 L497.5,107.01 L498.0,106.86 L498.5,106.72 L499.0,106.58 L499.5,106.46 L500.0,106.34 L500.5,106.24 L501.0,106.14 L501.5,106.05 L502.0,105.98 L502.5,105.91 L503.0,105.85 L503.5,105.80 L504.0,105.76 L504.5,105.73 L505.0,105.71 L505.5,105.70 L506.0,105.70 L506.5,105.71 L507.0,105.73 L507.5,105.76 L508.0,105.79 L508.5,105.84 L509.0,105.90 L509.5,105.97 L510.0,106.04 L510.5,106.13 L511.0,106.22 L511.5,106.33 L512.0,106.44 L512.5,106.56 L513.0,106.70 L513.5,106.84 L514.0,106.99 L514.5,107.15 L515.0,107.32 L515.5,107.49 L516.0,107.68 L516.5,107.87 L517.0,108.08 L517.5,108.29 L518.0,108.51 L518.5,108.74 L519.0,108.97 L519.5,109.22 L520.0,109.47 L520.5,109.73 L521.0,109.99 L521.5,110.27 L522.0,110.55 L522.5,110.84 L523.0,111.13 L523.5,111.43 L524.0,111.74 L524.5,112.06 L525.0,112.38 L525.5,112.71 L526.0,113.04 L526.5,113.38 L527.0,113.73 L527.5,114.08 L528.0,114.43 L528.5,114.79 L529.0,115.16 L529.5,115.53 L530.0,115.91 L530.5,116.29 L531.0,116.67 L531.5,117.06 L532.0,117.45 L532.5,117.85 L533.0,118.25 L533.5,118.65 L534.0,119.06 L534.5,119.47 L535.0,119.88 L535.5,120.29 L536.0,120.71 L536.5,121.13 L537.0,121.55 L537.5,121.97 L538.0,122.40 L538.5,122.83 L539.0,123.26 L539.5,123.68 L540.0,124.12 L540.5,124.55 L541.0,124.98 L541.5,125.41 L542.0,125.84 L542.5,126.28 L543.0,126.71 L543.5,127.14 L544.0,127.58 L544.5,128.01 L545.0,128.44 L545.5,128.87 L546.0,129.31 L546.5,129.73 L547.0,130.16 L547.5,130.59 L548.0,131.02 L548.5,131.44 L549.0,131.86 L549.5,132.28 L550.0,132.70 L550.5,133.12 L551.0,133.53 L551.5,133.95 L552.0,134.36 L552.5,134.76 L553.0,135.17 L553.5,135.57 L554.0,135.97 L554.5,136.37 L555.0,136.76 L555.5,137.15 L556.0,137.54 L556.5,137.92 L557.0,138.30 L557.5,138.68 L558.0,139.05 L558.5,139.42 L559.0,139.79 L559.5,140.15 L560.0,140.51 L560.5,140.87 L561.0,141.22 L561.5,141.57 L562.0,141.91 L562.5,142.25 L563.0,142.59 L563.5,142.92 L564.0,143.25 L564.5,143.57 L565.0,143.89 L565.5,144.20 L566.0,144.51 L566.5,144.82 L567.0,145.12 L567.5,145.42 L568.0,145.71 L568.5,146.00 L569.0,146.29 L569.5,146.57 L570.0,146.85 L570.5,147.12 L571.0,147.39 L571.5,147.65 L572.0,147.91 L572.5,148.16 L573.0,148.41 L573.5,148.66 L574.0,148.90 L574.5,149.14 L575.0,149.37 L575.5,149.60 L576.0,149.83 L576.5,150.05 L577.0,150.27 L577.5,150.48 L578.0,150.69 L578.5,150.89 L579.0,151.09 L579.5,151.29 L580.0,151.48 L580.5,151.67 L581.0,151.86 L581.5,152.04 L582.0,152.21 L582.5,152.39 L583.0,152.56 L583.5,152.72 L584.0,152.89 L584.5,153.05 L585.0,153.20 L585.5,153.35 L586.0,153.50 L586.5,153.65 L587.0,153.79 L587.5,153.93 L588.0,154.06 L588.5,154.19 L589.0,154.32 L589.5,154.45 L590.0,154.57 L590.5,154.69 L591.0,154.81 L591.5,154.92 L592.0,155.03 L592.5,155.14 L593.0,155.25 L593.5,155.35 L594.0,155.45 L594.5,155.55 L595.0,155.64 L595.5,155.73 L596.0,155.82 L596.5,155.91 L597.0,156.00 L597.5,156.08 L598.0,156.16 L598.5,156.24 L599.0,156.31 L599.5,156.39 L600.0,156.46 L600.5,156.53 L601.0,156.59 L601.5,156.66 L602.0,156.72 L602.5,156.78 L603.0,156.84 L603.5,156.90 L604.0,156.96 L604.5,157.01 L605.0,157.07 L605.5,157.12 L606.0,157.17 L606.5,157.22 L607.0,157.26 L607.5,157.31 L608.0,157.35 L608.5,157.39 L609.0,157.43 L609.5,157.47 L610.0,157.51 L610.5,157.55 L611.0,157.59 L611.5,157.62 L612.0,157.65 L612.5,157.69 L613.0,157.72 L613.5,157.75 L614.0,157.78 L614.5,157.80 L615.0,157.83 L615.5,157.86 L616.0,157.88 L616.5,157.91 L617.0,157.93 L617.5,157.95 L618.0,157.98 L618.5,158.00 L619.0,158.02 L619.5,158.04 L620.0,158.06 L620.5,158.07 L621.0,158.09 L621.5,158.11 L622.0,158.13 L622.5,158.14 L623.0,158.16 L623.5,158.17 L624.0,158.18 L624.5,158.20 L625.0,158.21 L625.5,158.22 L626.0,158.24 L626.5,158.25 L627.0,158.26 L627.5,158.27 L628.0,158.28 L628.5,158.29 L629.0,158.30 L629.5,158.31 L630.0,158.31 L630.5,158.32 L631.0,158.33 L631.5,158.34 L632.0,158.35 L632.5,158.35 L633.0,158.36 L633.5,158.37 L634.0,158.37 L634.5,158.38 L635.0,158.38 L635.5,158.39 L636.0,158.39 L636.5,158.40 L637.0,158.40 L637.5,158.41 L638.0,158.41 L638.5,158.42 L639.0,158.42 L639.5,158.42 L640.0,158.43 L640.5,158.43 L641.0,158.43 L641.5,158.44 L642.0,158.44 L642.5,158.44 L643.0,158.45 L643.5,158.45 L644.0,158.45 L644.5,158.45 L645.0,158.46 L645.5,158.46 L646.0,158.46 L646.5,158.46 L647.0,158.46 L647.5,158.47 L648.0,158.47 L648.5,158.47 L649.0,158.47 L649.5,158.47 L650.0,158.47 L650.5,158.48 L651.0,158.48 L651.5,158.48 L652.0,158.48 L652.5,158.48 L653.0,158.48 L653.5,158.48 L654.0,158.48 L654.5,158.48 L655.0,158.48 L655.5,158.49 L656.0,158.49 L656.5,158.49 L657.0,158.49 L657.5,158.49 L658.0,158.49 L658.5,158.49 L659.0,158.49 L659.5,158.49 L660.0,158.49 L660.5,158.49 L661.0,158.49 L661.5,158.49 L662.0,158.49 L662.5,158.49 L663.0,158.49 L663.5,158.49 L664.0,158.49 L664.5,158.49 L665.0,158.50 L665.5,158.50 L666.0,158.50 L666.5,158.50 L667.0,158.50 L667.5,158.50 L668.0,158.50 L668.5,158.50 L669.0,158.50 L669.5,158.50 L670.0,158.50 L670.5,158.50 L671.0,158.50 L671.5,158.50 L672.0,158.50 L672.5,158.50 L673.0,158.50 L673.5,158.50 L674.0,158.50 L674.5,158.50 L675.0,158.50 L675.5,158.50 L676.0,158.50 L676.5,158.50 L677.0,158.50 L677.5,158.50 L678.0,158.50 L678.5,158.50 L679.0,158.50 L679.5,158.50 L680.0,158.50 L680.5,158.50 L681.0,158.50 L681.5,158.50 L682.0,158.50 L682.5,158.50 L683.0,158.50 L683.5,158.50 L684.0,158.50" fill="none" stroke="#d6373d" stroke-width="1.9"/><path d="M62.0,158.50 L62.5,158.50 L63.0,158.50 L63.5,158.50 L64.0,158.50 L64.5,158.50 L65.0,158.50 L65.5,158.50 L66.0,158.50 L66.5,158.50 L67.0,158.50 L67.5,158.50 L68.0,158.50 L68.5,158.50 L69.0,158.50 L69.5,158.50 L70.0,158.50 L70.5,158.50 L71.0,158.50 L71.5,158.50 L72.0,158.50 L72.5,158.50 L73.0,158.50 L73.5,158.50 L74.0,158.50 L74.5,158.50 L75.0,158.50 L75.5,158.50 L76.0,158.50 L76.5,158.50 L77.0,158.50 L77.5,158.50 L78.0,158.50 L78.5,158.50 L79.0,158.50 L79.5,158.50 L80.0,158.50 L80.5,158.50 L81.0,158.50 L81.5,158.50 L82.0,158.50 L82.5,158.50 L83.0,158.50 L83.5,158.50 L84.0,158.50 L84.5,158.50 L85.0,158.50 L85.5,158.50 L86.0,158.50 L86.5,158.50 L87.0,158.50 L87.5,158.50 L88.0,158.50 L88.5,158.50 L89.0,158.50 L89.5,158.50 L90.0,158.50 L90.5,158.50 L91.0,158.50 L91.5,158.50 L92.0,158.50 L92.5,158.50 L93.0,158.50 L93.5,158.50 L94.0,158.50 L94.5,158.50 L95.0,158.50 L95.5,158.50 L96.0,158.50 L96.5,158.50 L97.0,158.50 L97.5,158.50 L98.0,158.50 L98.5,158.50 L99.0,158.50 L99.5,158.50 L100.0,158.50 L100.5,158.50 L101.0,158.50 L101.5,158.50 L102.0,158.50 L102.5,158.50 L103.0,158.50 L103.5,158.50 L104.0,158.50 L104.5,158.50 L105.0,158.50 L105.5,158.50 L106.0,158.50 L106.5,158.50 L107.0,158.50 L107.5,158.50 L108.0,158.50 L108.5,158.50 L109.0,158.50 L109.5,158.50 L110.0,158.50 L110.5,158.50 L111.0,158.50 L111.5,158.50 L112.0,158.50 L112.5,158.50 L113.0,158.50 L113.5,158.50 L114.0,158.50 L114.5,158.50 L115.0,158.50 L115.5,158.50 L116.0,158.50 L116.5,158.50 L117.0,158.50 L117.5,158.50 L118.0,158.50 L118.5,158.50 L119.0,158.50 L119.5,158.50 L120.0,158.50 L120.5,158.50 L121.0,158.50 L121.5,158.50 L122.0,158.50 L122.5,158.50 L123.0,158.50 L123.5,158.50 L124.0,158.50 L124.5,158.50 L125.0,158.50 L125.5,158.50 L126.0,158.50 L126.5,158.50 L127.0,158.50 L127.5,158.50 L128.0,158.50 L128.5,158.50 L129.0,158.50 L129.5,158.50 L130.0,158.50 L130.5,158.50 L131.0,158.50 L131.5,158.50 L132.0,158.50 L132.5,158.50 L133.0,158.50 L133.5,158.50 L134.0,158.50 L134.5,158.50 L135.0,158.50 L135.5,158.50 L136.0,158.50 L136.5,158.50 L137.0,158.50 L137.5,158.50 L138.0,158.50 L138.5,158.50 L139.0,158.50 L139.5,158.50 L140.0,158.50 L140.5,158.50 L141.0,158.50 L141.5,158.50 L142.0,158.50 L142.5,158.50 L143.0,158.50 L143.5,158.50 L144.0,158.50 L144.5,158.50 L145.0,158.50 L145.5,158.50 L146.0,158.50 L146.5,158.50 L147.0,158.50 L147.5,158.50 L148.0,158.50 L148.5,158.50 L149.0,158.50 L149.5,158.50 L150.0,158.50 L150.5,158.50 L151.0,158.50 L151.5,158.50 L152.0,158.50 L152.5,158.50 L153.0,158.50 L153.5,158.50 L154.0,158.50 L154.5,158.50 L155.0,158.50 L155.5,158.50 L156.0,158.50 L156.5,158.50 L157.0,158.50 L157.5,158.50 L158.0,158.50 L158.5,158.50 L159.0,158.50 L159.5,158.50 L160.0,158.50 L160.5,158.50 L161.0,158.50 L161.5,158.50 L162.0,158.50 L162.5,158.50 L163.0,158.50 L163.5,158.50 L164.0,158.50 L164.5,158.50 L165.0,158.50 L165.5,158.50 L166.0,158.50 L166.5,158.50 L167.0,158.50 L167.5,158.50 L168.0,158.50 L168.5,158.50 L169.0,158.50 L169.5,158.50 L170.0,158.50 L170.5,158.50 L171.0,158.50 L171.5,158.50 L172.0,158.50 L172.5,158.50 L173.0,158.50 L173.5,158.50 L174.0,158.50 L174.5,158.50 L175.0,158.50 L175.5,158.50 L176.0,158.50 L176.5,158.50 L177.0,158.50 L177.5,158.50 L178.0,158.50 L178.5,158.50 L179.0,158.50 L179.5,158.50 L180.0,158.50 L180.5,158.50 L181.0,158.50 L181.5,158.50 L182.0,158.50 L182.5,158.50 L183.0,158.50 L183.5,158.50 L184.0,158.50 L184.5,158.50 L185.0,158.50 L185.5,158.50 L186.0,158.50 L186.5,158.50 L187.0,158.50 L187.5,158.50 L188.0,158.50 L188.5,158.50 L189.0,158.50 L189.5,158.50 L190.0,158.50 L190.5,158.50 L191.0,158.50 L191.5,158.50 L192.0,158.50 L192.5,158.50 L193.0,158.50 L193.5,158.50 L194.0,158.50 L194.5,158.50 L195.0,158.50 L195.5,158.50 L196.0,158.50 L196.5,158.50 L197.0,158.50 L197.5,158.50 L198.0,158.50 L198.5,158.50 L199.0,158.50 L199.5,158.50 L200.0,158.50 L200.5,158.50 L201.0,158.50 L201.5,158.50 L202.0,158.50 L202.5,158.50 L203.0,158.50 L203.5,158.50 L204.0,158.50 L204.5,158.50 L205.0,158.50 L205.5,158.50 L206.0,158.50 L206.5,158.50 L207.0,158.50 L207.5,158.50 L208.0,158.50 L208.5,158.50 L209.0,158.50 L209.5,158.50 L210.0,158.50 L210.5,158.50 L211.0,158.50 L211.5,158.50 L212.0,158.50 L212.5,158.50 L213.0,158.50 L213.5,158.50 L214.0,158.50 L214.5,158.50 L215.0,158.50 L215.5,158.50 L216.0,158.50 L216.5,158.50 L217.0,158.50 L217.5,158.50 L218.0,158.50 L218.5,158.50 L219.0,158.50 L219.5,158.50 L220.0,158.50 L220.5,158.50 L221.0,158.50 L221.5,158.50 L222.0,158.50 L222.5,158.50 L223.0,158.50 L223.5,158.50 L224.0,158.50 L224.5,158.50 L225.0,158.50 L225.5,158.50 L226.0,158.50 L226.5,158.50 L227.0,158.50 L227.5,158.50 L228.0,158.50 L228.5,158.50 L229.0,158.50 L229.5,158.50 L230.0,158.50 L230.5,158.50 L231.0,158.50 L231.5,158.50 L232.0,158.50 L232.5,158.50 L233.0,158.50 L233.5,158.50 L234.0,158.50 L234.5,158.50 L235.0,158.50 L235.5,158.50 L236.0,158.50 L236.5,158.50 L237.0,158.50 L237.5,158.50 L238.0,158.50 L238.5,158.50 L239.0,158.50 L239.5,158.50 L240.0,158.50 L240.5,158.50 L241.0,158.50 L241.5,158.50 L242.0,158.50 L242.5,158.50 L243.0,158.50 L243.5,158.50 L244.0,158.50 L244.5,158.50 L245.0,158.50 L245.5,158.50 L246.0,158.50 L246.5,158.50 L247.0,158.50 L247.5,158.50 L248.0,158.50 L248.5,158.50 L249.0,158.50 L249.5,158.50 L250.0,158.50 L250.5,158.50 L251.0,158.50 L251.5,158.50 L252.0,158.50 L252.5,158.50 L253.0,158.50 L253.5,158.50 L254.0,158.50 L254.5,158.50 L255.0,158.50 L255.5,158.50 L256.0,158.50 L256.5,158.50 L257.0,158.50 L257.5,158.50 L258.0,158.50 L258.5,158.50 L259.0,158.50 L259.5,158.50 L260.0,158.50 L260.5,158.50 L261.0,158.50 L261.5,158.50 L262.0,158.50 L262.5,158.50 L263.0,158.50 L263.5,158.50 L264.0,158.50 L264.5,158.50 L265.0,158.50 L265.5,158.50 L266.0,158.50 L266.5,158.50 L267.0,158.50 L267.5,158.50 L268.0,158.50 L268.5,158.50 L269.0,158.50 L269.5,158.50 L270.0,158.50 L270.5,158.50 L271.0,158.50 L271.5,158.50 L272.0,158.50 L272.5,158.50 L273.0,158.50 L273.5,158.50 L274.0,158.50 L274.5,158.50 L275.0,158.50 L275.5,158.50 L276.0,158.50 L276.5,158.50 L277.0,158.50 L277.5,158.50 L278.0,158.50 L278.5,158.50 L279.0,158.50 L279.5,158.50 L280.0,158.50 L280.5,158.50 L281.0,158.50 L281.5,158.50 L282.0,158.50 L282.5,158.50 L283.0,158.50 L283.5,158.50 L284.0,158.50 L284.5,158.50 L285.0,158.50 L285.5,158.50 L286.0,158.50 L286.5,158.50 L287.0,158.50 L287.5,158.50 L288.0,158.50 L288.5,158.50 L289.0,158.50 L289.5,158.50 L290.0,158.50 L290.5,158.50 L291.0,158.50 L291.5,158.50 L292.0,158.50 L292.5,158.50 L293.0,158.50 L293.5,158.50 L294.0,158.50 L294.5,158.50 L295.0,158.50 L295.5,158.50 L296.0,158.50 L296.5,158.50 L297.0,158.50 L297.5,158.50 L298.0,158.50 L298.5,158.50 L299.0,158.50 L299.5,158.50 L300.0,158.50 L300.5,158.50 L301.0,158.50 L301.5,158.50 L302.0,158.50 L302.5,158.50 L303.0,158.50 L303.5,158.50 L304.0,158.50 L304.5,158.50 L305.0,158.50 L305.5,158.50 L306.0,158.50 L306.5,158.50 L307.0,158.50 L307.5,158.50 L308.0,158.50 L308.5,158.50 L309.0,158.50 L309.5,158.50 L310.0,158.50 L310.5,158.50 L311.0,158.50 L311.5,158.50 L312.0,158.50 L312.5,158.50 L313.0,158.50 L313.5,158.50 L314.0,158.50 L314.5,158.50 L315.0,158.50 L315.5,158.50 L316.0,158.50 L316.5,158.50 L317.0,158.50 L317.5,158.50 L318.0,158.50 L318.5,158.50 L319.0,158.50 L319.5,158.50 L320.0,158.50 L320.5,158.50 L321.0,158.50 L321.5,158.50 L322.0,158.50 L322.5,158.50 L323.0,158.50 L323.5,158.50 L324.0,158.50 L324.5,158.50 L325.0,158.50 L325.5,158.50 L326.0,158.50 L326.5,158.50 L327.0,158.50 L327.5,158.50 L328.0,158.50 L328.5,158.50 L329.0,158.50 L329.5,158.50 L330.0,158.50 L330.5,158.50 L331.0,158.50 L331.5,158.50 L332.0,158.50 L332.5,158.50 L333.0,158.50 L333.5,158.50 L334.0,158.50 L334.5,158.50 L335.0,158.50 L335.5,158.50 L336.0,158.50 L336.5,158.50 L337.0,158.50 L337.5,158.50 L338.0,158.50 L338.5,158.50 L339.0,158.50 L339.5,158.50 L340.0,158.50 L340.5,158.50 L341.0,158.50 L341.5,158.50 L342.0,158.50 L342.5,158.50 L343.0,158.50 L343.5,158.50 L344.0,158.50 L344.5,158.50 L345.0,158.50 L345.5,158.50 L346.0,158.50 L346.5,158.50 L347.0,158.50 L347.5,158.50 L348.0,158.50 L348.5,158.50 L349.0,158.50 L349.5,158.50 L350.0,158.50 L350.5,158.50 L351.0,158.50 L351.5,158.50 L352.0,158.50 L352.5,158.50 L353.0,158.50 L353.5,158.50 L354.0,158.50 L354.5,158.50 L355.0,158.50 L355.5,158.50 L356.0,158.50 L356.5,158.50 L357.0,158.50 L357.5,158.50 L358.0,158.50 L358.5,158.50 L359.0,158.50 L359.5,158.50 L360.0,158.50 L360.5,158.50 L361.0,158.50 L361.5,158.50 L362.0,158.50 L362.5,158.50 L363.0,158.50 L363.5,158.50 L364.0,158.50 L364.5,158.50 L365.0,158.50 L365.5,158.50 L366.0,158.50 L366.5,158.50 L367.0,158.50 L367.5,158.50 L368.0,158.50 L368.5,158.50 L369.0,158.50 L369.5,158.50 L370.0,158.50 L370.5,158.50 L371.0,158.50 L371.5,158.50 L372.0,158.50 L372.5,158.50 L373.0,158.50 L373.5,158.50 L374.0,158.50 L374.5,158.50 L375.0,158.50 L375.5,158.50 L376.0,158.49 L376.5,158.49 L377.0,158.49 L377.5,158.49 L378.0,158.49 L378.5,158.49 L379.0,158.49 L379.5,158.49 L380.0,158.49 L380.5,158.49 L381.0,158.49 L381.5,158.49 L382.0,158.49 L382.5,158.48 L383.0,158.48 L383.5,158.48 L384.0,158.48 L384.5,158.48 L385.0,158.48 L385.5,158.47 L386.0,158.47 L386.5,158.47 L387.0,158.47 L387.5,158.47 L388.0,158.46 L388.5,158.46 L389.0,158.46 L389.5,158.45 L390.0,158.45 L390.5,158.45 L391.0,158.44 L391.5,158.44 L392.0,158.43 L392.5,158.43 L393.0,158.42 L393.5,158.42 L394.0,158.41 L394.5,158.40 L395.0,158.40 L395.5,158.39 L396.0,158.38 L396.5,158.37 L397.0,158.36 L397.5,158.35 L398.0,158.34 L398.5,158.33 L399.0,158.32 L399.5,158.30 L400.0,158.29 L400.5,158.28 L401.0,158.26 L401.5,158.24 L402.0,158.23 L402.5,158.21 L403.0,158.19 L403.5,158.17 L404.0,158.15 L404.5,158.12 L405.0,158.10 L405.5,158.07 L406.0,158.04 L406.5,158.01 L407.0,157.98 L407.5,157.95 L408.0,157.92 L408.5,157.88 L409.0,157.84 L409.5,157.80 L410.0,157.76 L410.5,157.71 L411.0,157.66 L411.5,157.61 L412.0,157.56 L412.5,157.50 L413.0,157.45 L413.5,157.38 L414.0,157.32 L414.5,157.25 L415.0,157.18 L415.5,157.10 L416.0,157.02 L416.5,156.94 L417.0,156.85 L417.5,156.76 L418.0,156.67 L418.5,156.57 L419.0,156.46 L419.5,156.35 L420.0,156.24 L420.5,156.12 L421.0,155.99 L421.5,155.86 L422.0,155.73 L422.5,155.59 L423.0,155.44 L423.5,155.28 L424.0,155.12 L424.5,154.95 L425.0,154.78 L425.5,154.60 L426.0,154.41 L426.5,154.21 L427.0,154.01 L427.5,153.79 L428.0,153.57 L428.5,153.34 L429.0,153.11 L429.5,152.86 L430.0,152.60 L430.5,152.34 L431.0,152.07 L431.5,151.78 L432.0,151.49 L432.5,151.18 L433.0,150.87 L433.5,150.55 L434.0,150.21 L434.5,149.87 L435.0,149.51 L435.5,149.14 L436.0,148.77 L436.5,148.38 L437.0,147.97 L437.5,147.56 L438.0,147.14 L438.5,146.70 L439.0,146.25 L439.5,145.79 L440.0,145.31 L440.5,144.83 L441.0,144.33 L441.5,143.82 L442.0,143.29 L442.5,142.76 L443.0,142.21 L443.5,141.65 L444.0,141.07 L444.5,140.49 L445.0,139.89 L445.5,139.27 L446.0,138.65 L446.5,138.01 L447.0,137.36 L447.5,136.70 L448.0,136.03 L448.5,135.34 L449.0,134.64 L449.5,133.93 L450.0,133.21 L450.5,132.48 L451.0,131.74 L451.5,130.99 L452.0,130.23 L452.5,129.45 L453.0,128.67 L453.5,127.88 L454.0,127.08 L454.5,126.27 L455.0,125.45 L455.5,124.62 L456.0,123.79 L456.5,122.95 L457.0,122.11 L457.5,121.25 L458.0,120.40 L458.5,119.54 L459.0,118.67 L459.5,117.80 L460.0,116.93 L460.5,116.05 L461.0,115.18 L461.5,114.30 L462.0,113.42 L462.5,112.55 L463.0,111.67 L463.5,110.79 L464.0,109.92 L464.5,109.05 L465.0,108.19 L465.5,107.32 L466.0,106.47 L466.5,105.62 L467.0,104.77 L467.5,103.94 L468.0,103.11 L468.5,102.29 L469.0,101.49 L469.5,100.69 L470.0,99.90 L470.5,99.13 L471.0,98.37 L471.5,97.62 L472.0,96.88 L472.5,96.17 L473.0,95.46 L473.5,94.78 L474.0,94.11 L474.5,93.46 L475.0,92.83 L475.5,92.21 L476.0,91.62 L476.5,91.05 L477.0,90.50 L477.5,89.97 L478.0,89.47 L478.5,88.98 L479.0,88.52 L479.5,88.09 L480.0,87.68 L480.5,87.29 L481.0,86.93 L481.5,86.60 L482.0,86.29 L482.5,86.00 L483.0,85.75 L483.5,85.52 L484.0,85.32 L484.5,85.15 L485.0,85.00 L485.5,84.89 L486.0,84.80 L486.5,84.74 L487.0,84.71 L487.5,84.70 L488.0,84.73 L488.5,84.78 L489.0,84.86 L489.5,84.97 L490.0,85.11 L490.5,85.27 L491.0,85.47 L491.5,85.69 L492.0,85.94 L492.5,86.21 L493.0,86.51 L493.5,86.84 L494.0,87.19 L494.5,87.57 L495.0,87.98 L495.5,88.41 L496.0,88.86 L496.5,89.34 L497.0,89.84 L497.5,90.36 L498.0,90.90 L498.5,91.47 L499.0,92.06 L499.5,92.67 L500.0,93.29 L500.5,93.94 L501.0,94.60 L501.5,95.28 L502.0,95.98 L502.5,96.69 L503.0,97.42 L503.5,98.17 L504.0,98.93 L504.5,99.70 L505.0,100.48 L505.5,101.28 L506.0,102.08 L506.5,102.90 L507.0,103.72 L507.5,104.56 L508.0,105.40 L508.5,106.25 L509.0,107.10 L509.5,107.96 L510.0,108.82 L510.5,109.69 L511.0,110.57 L511.5,111.44 L512.0,112.32 L512.5,113.19 L513.0,114.07 L513.5,114.95 L514.0,115.83 L514.5,116.70 L515.0,117.57 L515.5,118.44 L516.0,119.31 L516.5,120.17 L517.0,121.03 L517.5,121.88 L518.0,122.73 L518.5,123.57 L519.0,124.41 L519.5,125.23 L520.0,126.05 L520.5,126.87 L521.0,127.67 L521.5,128.46 L522.0,129.25 L522.5,130.02 L523.0,130.79 L523.5,131.55 L524.0,132.29 L524.5,133.02 L525.0,133.75 L525.5,134.46 L526.0,135.16 L526.5,135.85 L527.0,136.53 L527.5,137.19 L528.0,137.84 L528.5,138.48 L529.0,139.11 L529.5,139.73 L530.0,140.33 L530.5,140.92 L531.0,141.50 L531.5,142.06 L532.0,142.62 L532.5,143.15 L533.0,143.68 L533.5,144.20 L534.0,144.70 L534.5,145.19 L535.0,145.66 L535.5,146.13 L536.0,146.58 L536.5,147.02 L537.0,147.45 L537.5,147.87 L538.0,148.27 L538.5,148.66 L539.0,149.05 L539.5,149.42 L540.0,149.78 L540.5,150.12 L541.0,150.46 L541.5,150.79 L542.0,151.10 L542.5,151.41 L543.0,151.71 L543.5,151.99 L544.0,152.27 L544.5,152.54 L545.0,152.79 L545.5,153.04 L546.0,153.28 L546.5,153.51 L547.0,153.74 L547.5,153.95 L548.0,154.16 L548.5,154.36 L549.0,154.55 L549.5,154.73 L550.0,154.91 L550.5,155.08 L551.0,155.24 L551.5,155.40 L552.0,155.55 L552.5,155.69 L553.0,155.83 L553.5,155.96 L554.0,156.09 L554.5,156.21 L555.0,156.32 L555.5,156.44 L556.0,156.54 L556.5,156.64 L557.0,156.74 L557.5,156.83 L558.0,156.92 L558.5,157.00 L559.0,157.08 L559.5,157.16 L560.0,157.23 L560.5,157.30 L561.0,157.37 L561.5,157.43 L562.0,157.49 L562.5,157.55 L563.0,157.60 L563.5,157.65 L564.0,157.70 L564.5,157.75 L565.0,157.79 L565.5,157.83 L566.0,157.87 L566.5,157.91 L567.0,157.94 L567.5,157.98 L568.0,158.01 L568.5,158.04 L569.0,158.06 L569.5,158.09 L570.0,158.12 L570.5,158.14 L571.0,158.16 L571.5,158.18 L572.0,158.20 L572.5,158.22 L573.0,158.24 L573.5,158.26 L574.0,158.27 L574.5,158.29 L575.0,158.30 L575.5,158.31 L576.0,158.33 L576.5,158.34 L577.0,158.35 L577.5,158.36 L578.0,158.37 L578.5,158.38 L579.0,158.39 L579.5,158.39 L580.0,158.40 L580.5,158.41 L581.0,158.41 L581.5,158.42 L582.0,158.43 L582.5,158.43 L583.0,158.44 L583.5,158.44 L584.0,158.44 L584.5,158.45 L585.0,158.45 L585.5,158.46 L586.0,158.46 L586.5,158.46 L587.0,158.46 L587.5,158.47 L588.0,158.47 L588.5,158.47 L589.0,158.47 L589.5,158.48 L590.0,158.48 L590.5,158.48 L591.0,158.48 L591.5,158.48 L592.0,158.48 L592.5,158.49 L593.0,158.49 L593.5,158.49 L594.0,158.49 L594.5,158.49 L595.0,158.49 L595.5,158.49 L596.0,158.49 L596.5,158.49 L597.0,158.49 L597.5,158.49 L598.0,158.49 L598.5,158.49 L599.0,158.49 L599.5,158.50 L600.0,158.50 L600.5,158.50 L601.0,158.50 L601.5,158.50 L602.0,158.50 L602.5,158.50 L603.0,158.50 L603.5,158.50 L604.0,158.50 L604.5,158.50 L605.0,158.50 L605.5,158.50 L606.0,158.50 L606.5,158.50 L607.0,158.50 L607.5,158.50 L608.0,158.50 L608.5,158.50 L609.0,158.50 L609.5,158.50 L610.0,158.50 L610.5,158.50 L611.0,158.50 L611.5,158.50 L612.0,158.50 L612.5,158.50 L613.0,158.50 L613.5,158.50 L614.0,158.50 L614.5,158.50 L615.0,158.50 L615.5,158.50 L616.0,158.50 L616.5,158.50 L617.0,158.50 L617.5,158.50 L618.0,158.50 L618.5,158.50 L619.0,158.50 L619.5,158.50 L620.0,158.50 L620.5,158.50 L621.0,158.50 L621.5,158.50 L622.0,158.50 L622.5,158.50 L623.0,158.50 L623.5,158.50 L624.0,158.50 L624.5,158.50 L625.0,158.50 L625.5,158.50 L626.0,158.50 L626.5,158.50 L627.0,158.50 L627.5,158.50 L628.0,158.50 L628.5,158.50 L629.0,158.50 L629.5,158.50 L630.0,158.50 L630.5,158.50 L631.0,158.50 L631.5,158.50 L632.0,158.50 L632.5,158.50 L633.0,158.50 L633.5,158.50 L634.0,158.50 L634.5,158.50 L635.0,158.50 L635.5,158.50 L636.0,158.50 L636.5,158.50 L637.0,158.50 L637.5,158.50 L638.0,158.50 L638.5,158.50 L639.0,158.50 L639.5,158.50 L640.0,158.50 L640.5,158.50 L641.0,158.50 L641.5,158.50 L642.0,158.50 L642.5,158.50 L643.0,158.50 L643.5,158.50 L644.0,158.50 L644.5,158.50 L645.0,158.50 L645.5,158.50 L646.0,158.50 L646.5,158.50 L647.0,158.50 L647.5,158.50 L648.0,158.50 L648.5,158.50 L649.0,158.50 L649.5,158.50 L650.0,158.50 L650.5,158.50 L651.0,158.50 L651.5,158.50 L652.0,158.50 L652.5,158.50 L653.0,158.50 L653.5,158.50 L654.0,158.50 L654.5,158.50 L655.0,158.50 L655.5,158.50 L656.0,158.50 L656.5,158.50 L657.0,158.50 L657.5,158.50 L658.0,158.50 L658.5,158.50 L659.0,158.50 L659.5,158.50 L660.0,158.50 L660.5,158.50 L661.0,158.50 L661.5,158.50 L662.0,158.50 L662.5,158.50 L663.0,158.50 L663.5,158.50 L664.0,158.50 L664.5,158.50 L665.0,158.50 L665.5,158.50 L666.0,158.50 L666.5,158.50 L667.0,158.50 L667.5,158.50 L668.0,158.50 L668.5,158.50 L669.0,158.50 L669.5,158.50 L670.0,158.50 L670.5,158.50 L671.0,158.50 L671.5,158.50 L672.0,158.50 L672.5,158.50 L673.0,158.50 L673.5,158.50 L674.0,158.50 L674.5,158.50 L675.0,158.50 L675.5,158.50 L676.0,158.50 L676.5,158.50 L677.0,158.50 L677.5,158.50 L678.0,158.50 L678.5,158.50 L679.0,158.50 L679.5,158.50 L680.0,158.50 L680.5,158.50 L681.0,158.50 L681.5,158.50 L682.0,158.50 L682.5,158.50 L683.0,158.50 L683.5,158.50 L684.0,158.50" fill="none" stroke="#8a5a44" stroke-width="1.9"/><path d="M62.0,155.23 L63.0,155.18 L64.0,155.13 L65.0,155.08 L66.0,155.03 L67.0,154.97 L68.0,154.92 L69.0,154.87 L70.0,154.81 L71.0,154.76 L72.0,154.70 L73.0,154.64 L74.0,154.59 L75.0,154.53 L76.0,154.47 L77.0,154.41 L78.0,154.35 L79.0,154.29 L80.0,154.23 L81.0,154.17 L82.0,154.11 L83.0,154.05 L84.0,153.99 L85.0,153.93 L86.0,153.86 L87.0,153.80 L88.0,153.73 L89.0,153.67 L90.0,153.60 L91.0,153.54 L92.0,153.47 L93.0,153.40 L94.0,153.33 L95.0,153.27 L96.0,153.20 L97.0,153.13 L98.0,153.06 L99.0,152.99 L100.0,152.92 L101.0,152.85 L102.0,152.78 L103.0,152.70 L104.0,152.63 L105.0,152.56 L106.0,152.48 L107.0,152.41 L108.0,152.33 L109.0,152.26 L110.0,152.18 L111.0,152.11 L112.0,152.03 L113.0,151.96 L114.0,151.88 L115.0,151.80 L116.0,151.72 L117.0,151.64 L118.0,151.57 L119.0,151.49 L120.0,151.41 L121.0,151.33 L122.0,151.25 L123.0,151.16 L124.0,151.08 L125.0,151.00 L126.0,150.92 L127.0,150.84 L128.0,150.76 L129.0,150.67 L130.0,150.59 L131.0,150.51 L132.0,150.42 L133.0,150.34 L134.0,150.25 L135.0,150.17 L136.0,150.09 L137.0,150.00 L138.0,149.92 L139.0,149.83 L140.0,149.74 L141.0,149.66 L142.0,149.57 L143.0,149.49 L144.0,149.40 L145.0,149.31 L146.0,149.23 L147.0,149.14 L148.0,149.05 L149.0,148.97 L150.0,148.88 L151.0,148.79 L152.0,148.70 L153.0,148.62 L154.0,148.53 L155.0,148.44 L156.0,148.35 L157.0,148.27 L158.0,148.18 L159.0,148.09 L160.0,148.00 L161.0,147.92 L162.0,147.83 L163.0,147.74 L164.0,147.65 L165.0,147.57 L166.0,147.48 L167.0,147.39 L168.0,147.31 L169.0,147.22 L170.0,147.13 L171.0,147.05 L172.0,146.96 L173.0,146.87 L174.0,146.79 L175.0,146.70 L176.0,146.62 L177.0,146.53 L178.0,146.45 L179.0,146.36 L180.0,146.28 L181.0,146.19 L182.0,146.11 L183.0,146.03 L184.0,145.94 L185.0,145.86 L186.0,145.78 L187.0,145.70 L188.0,145.62 L189.0,145.54 L190.0,145.46 L191.0,145.38 L192.0,145.30 L193.0,145.22 L194.0,145.14 L195.0,145.06 L196.0,144.98 L197.0,144.91 L198.0,144.83 L199.0,144.75 L200.0,144.68 L201.0,144.60 L202.0,144.53 L203.0,144.46 L204.0,144.38 L205.0,144.31 L206.0,144.24 L207.0,144.17 L208.0,144.10 L209.0,144.03 L210.0,143.96 L211.0,143.90 L212.0,143.83 L213.0,143.76 L214.0,143.70 L215.0,143.63 L216.0,143.57 L217.0,143.50 L218.0,143.44 L219.0,143.38 L220.0,143.32 L221.0,143.26 L222.0,143.20 L223.0,143.14 L224.0,143.09 L225.0,143.03 L226.0,142.98 L227.0,142.92 L228.0,142.87 L229.0,142.82 L230.0,142.77 L231.0,142.71 L232.0,142.67 L233.0,142.62 L234.0,142.57 L235.0,142.52 L236.0,142.48 L237.0,142.43 L238.0,142.39 L239.0,142.35 L240.0,142.31 L241.0,142.27 L242.0,142.23 L243.0,142.19 L244.0,142.15 L245.0,142.12 L246.0,142.09 L247.0,142.05 L248.0,142.02 L249.0,141.99 L250.0,141.96 L251.0,141.93 L252.0,141.90 L253.0,141.88 L254.0,141.85 L255.0,141.83 L256.0,141.80 L257.0,141.78 L258.0,141.76 L259.0,141.74 L260.0,141.72 L261.0,141.71 L262.0,141.69 L263.0,141.68 L264.0,141.66 L265.0,141.65 L266.0,141.64 L267.0,141.63 L268.0,141.62 L269.0,141.62 L270.0,141.61 L271.0,141.61 L272.0,141.60 L273.0,141.60 L274.0,141.60 L275.0,141.60 L276.0,141.60 L277.0,141.60 L278.0,141.61 L279.0,141.61 L280.0,141.62 L281.0,141.63 L282.0,141.64 L283.0,141.65 L284.0,141.66 L285.0,141.67 L286.0,141.68 L287.0,141.70 L288.0,141.72 L289.0,141.73 L290.0,141.75 L291.0,141.77 L292.0,141.79 L293.0,141.82 L294.0,141.84 L295.0,141.86 L296.0,141.89 L297.0,141.92 L298.0,141.94 L299.0,141.97 L300.0,142.00 L301.0,142.04 L302.0,142.07 L303.0,142.10 L304.0,142.14 L305.0,142.17 L306.0,142.21 L307.0,142.25 L308.0,142.29 L309.0,142.33 L310.0,142.37 L311.0,142.41 L312.0,142.46 L313.0,142.50 L314.0,142.55 L315.0,142.59 L316.0,142.64 L317.0,142.69 L318.0,142.74 L319.0,142.79 L320.0,142.84 L321.0,142.90 L322.0,142.95 L323.0,143.00 L324.0,143.06 L325.0,143.12 L326.0,143.17 L327.0,143.23 L328.0,143.29 L329.0,143.35 L330.0,143.41 L331.0,143.47 L332.0,143.54 L333.0,143.60 L334.0,143.66 L335.0,143.73 L336.0,143.79 L337.0,143.86 L338.0,143.93 L339.0,144.00 L340.0,144.07 L341.0,144.14 L342.0,144.21 L343.0,144.28 L344.0,144.35 L345.0,144.42 L346.0,144.49 L347.0,144.57 L348.0,144.64 L349.0,144.72 L350.0,144.79 L351.0,144.87 L352.0,144.94 L353.0,145.02 L354.0,145.10 L355.0,145.18 L356.0,145.26 L357.0,145.34 L358.0,145.42 L359.0,145.50 L360.0,145.58 L361.0,145.66 L362.0,145.74 L363.0,145.82 L364.0,145.90 L365.0,145.99 L366.0,146.07 L367.0,146.15 L368.0,146.24 L369.0,146.32 L370.0,146.40 L371.0,146.49 L372.0,146.57 L373.0,146.66 L374.0,146.74 L375.0,146.83 L376.0,146.92 L377.0,147.00 L378.0,147.09 L379.0,147.17 L380.0,147.26 L381.0,147.35 L382.0,147.44 L383.0,147.52 L384.0,147.61 L385.0,147.70 L386.0,147.78 L387.0,147.87 L388.0,147.96 L389.0,148.05 L390.0,148.13 L391.0,148.22 L392.0,148.31 L393.0,148.40 L394.0,148.48 L395.0,148.57 L396.0,148.66 L397.0,148.75 L398.0,148.83 L399.0,148.92 L400.0,149.01 L401.0,149.10 L402.0,149.18 L403.0,149.27 L404.0,149.36 L405.0,149.44 L406.0,149.53 L407.0,149.61 L408.0,149.70 L409.0,149.79 L410.0,149.87 L411.0,149.96 L412.0,150.04 L413.0,150.13 L414.0,150.21 L415.0,150.30 L416.0,150.38 L417.0,150.46 L418.0,150.55 L419.0,150.63 L420.0,150.71 L421.0,150.80 L422.0,150.88 L423.0,150.96 L424.0,151.04 L425.0,151.12 L426.0,151.20 L427.0,151.29 L428.0,151.37 L429.0,151.45 L430.0,151.53 L431.0,151.60 L432.0,151.68 L433.0,151.76 L434.0,151.84 L435.0,151.92 L436.0,151.99 L437.0,152.07 L438.0,152.15 L439.0,152.22 L440.0,152.30 L441.0,152.37 L442.0,152.45 L443.0,152.52 L444.0,152.59 L445.0,152.67 L446.0,152.74 L447.0,152.81 L448.0,152.88 L449.0,152.95 L450.0,153.02 L451.0,153.09 L452.0,153.16 L453.0,153.23 L454.0,153.30 L455.0,153.37 L456.0,153.44 L457.0,153.50 L458.0,153.57 L459.0,153.63 L460.0,153.70 L461.0,153.77 L462.0,153.83 L463.0,153.89 L464.0,153.96 L465.0,154.02 L466.0,154.08 L467.0,154.14 L468.0,154.20 L469.0,154.26 L470.0,154.32 L471.0,154.38 L472.0,154.44 L473.0,154.50 L474.0,154.56 L475.0,154.62 L476.0,154.67 L477.0,154.73 L478.0,154.78 L479.0,154.84 L480.0,154.89 L481.0,154.95 L482.0,155.00 L483.0,155.05 L484.0,155.11 L485.0,155.16 L486.0,155.21 L487.0,155.26 L488.0,155.31 L489.0,155.36 L490.0,155.41 L491.0,155.46 L492.0,155.50 L493.0,155.55 L494.0,155.60 L495.0,155.64 L496.0,155.69 L497.0,155.73 L498.0,155.78 L499.0,155.82 L500.0,155.87 L501.0,155.91 L502.0,155.95 L503.0,155.99 L504.0,156.04 L505.0,156.08 L506.0,156.12 L507.0,156.16 L508.0,156.20 L509.0,156.24 L510.0,156.28 L511.0,156.31 L512.0,156.35 L513.0,156.39 L514.0,156.42 L515.0,156.46 L516.0,156.50 L517.0,156.53 L518.0,156.57 L519.0,156.60 L520.0,156.63 L521.0,156.67 L522.0,156.70 L523.0,156.73 L524.0,156.76 L525.0,156.80 L526.0,156.83 L527.0,156.86 L528.0,156.89 L529.0,156.92 L530.0,156.95 L531.0,156.97 L532.0,157.00 L533.0,157.03 L534.0,157.06 L535.0,157.09 L536.0,157.11 L537.0,157.14 L538.0,157.16 L539.0,157.19 L540.0,157.21 L541.0,157.24 L542.0,157.26 L543.0,157.29 L544.0,157.31 L545.0,157.33 L546.0,157.36 L547.0,157.38 L548.0,157.40 L549.0,157.42 L550.0,157.45 L551.0,157.47 L552.0,157.49 L553.0,157.51 L554.0,157.53 L555.0,157.55 L556.0,157.57 L557.0,157.59 L558.0,157.60 L559.0,157.62 L560.0,157.64 L561.0,157.66 L562.0,157.68 L563.0,157.69 L564.0,157.71 L565.0,157.73 L566.0,157.74 L567.0,157.76 L568.0,157.77 L569.0,157.79 L570.0,157.80 L571.0,157.82 L572.0,157.83 L573.0,157.85 L574.0,157.86 L575.0,157.88 L576.0,157.89 L577.0,157.90 L578.0,157.92 L579.0,157.93 L580.0,157.94 L581.0,157.95 L582.0,157.97 L583.0,157.98 L584.0,157.99 L585.0,158.00 L586.0,158.01 L587.0,158.02 L588.0,158.03 L589.0,158.04 L590.0,158.06 L591.0,158.07 L592.0,158.08 L593.0,158.08 L594.0,158.09 L595.0,158.10 L596.0,158.11 L597.0,158.12 L598.0,158.13 L599.0,158.14 L600.0,158.15 L601.0,158.16 L602.0,158.16 L603.0,158.17 L604.0,158.18 L605.0,158.19 L606.0,158.20 L607.0,158.20 L608.0,158.21 L609.0,158.22 L610.0,158.22 L611.0,158.23 L612.0,158.24 L613.0,158.24 L614.0,158.25 L615.0,158.26 L616.0,158.26 L617.0,158.27 L618.0,158.27 L619.0,158.28 L620.0,158.28 L621.0,158.29 L622.0,158.29 L623.0,158.30 L624.0,158.31 L625.0,158.31 L626.0,158.31 L627.0,158.32 L628.0,158.32 L629.0,158.33 L630.0,158.33 L631.0,158.34 L632.0,158.34 L633.0,158.35 L634.0,158.35 L635.0,158.35 L636.0,158.36 L637.0,158.36 L638.0,158.36 L639.0,158.37 L640.0,158.37 L641.0,158.38 L642.0,158.38 L643.0,158.38 L644.0,158.38 L645.0,158.39 L646.0,158.39 L647.0,158.39 L648.0,158.40 L649.0,158.40 L650.0,158.40 L651.0,158.40 L652.0,158.41 L653.0,158.41 L654.0,158.41 L655.0,158.41 L656.0,158.42 L657.0,158.42 L658.0,158.42 L659.0,158.42 L660.0,158.43 L661.0,158.43 L662.0,158.43 L663.0,158.43 L664.0,158.43 L665.0,158.44 L666.0,158.44 L667.0,158.44 L668.0,158.44 L669.0,158.44 L670.0,158.44 L671.0,158.45 L672.0,158.45 L673.0,158.45 L674.0,158.45 L675.0,158.45 L676.0,158.45 L677.0,158.45 L678.0,158.46 L679.0,158.46 L680.0,158.46 L681.0,158.46 L682.0,158.46 L683.0,158.46 L684.0,158.46" fill="none" stroke="#4078b2" stroke-width="1.9"/><path d="M62.0,158.01 L63.0,157.99 L64.0,157.98 L65.0,157.96 L66.0,157.95 L67.0,157.93 L68.0,157.92 L69.0,157.90 L70.0,157.88 L71.0,157.87 L72.0,157.85 L73.0,157.83 L74.0,157.81 L75.0,157.79 L76.0,157.77 L77.0,157.75 L78.0,157.73 L79.0,157.71 L80.0,157.69 L81.0,157.67 L82.0,157.65 L83.0,157.62 L84.0,157.60 L85.0,157.58 L86.0,157.55 L87.0,157.53 L88.0,157.50 L89.0,157.48 L90.0,157.45 L91.0,157.42 L92.0,157.39 L93.0,157.37 L94.0,157.34 L95.0,157.31 L96.0,157.28 L97.0,157.25 L98.0,157.22 L99.0,157.18 L100.0,157.15 L101.0,157.12 L102.0,157.08 L103.0,157.05 L104.0,157.01 L105.0,156.98 L106.0,156.94 L107.0,156.90 L108.0,156.87 L109.0,156.83 L110.0,156.79 L111.0,156.75 L112.0,156.71 L113.0,156.66 L114.0,156.62 L115.0,156.58 L116.0,156.53 L117.0,156.49 L118.0,156.44 L119.0,156.40 L120.0,156.35 L121.0,156.30 L122.0,156.25 L123.0,156.20 L124.0,156.15 L125.0,156.10 L126.0,156.05 L127.0,155.99 L128.0,155.94 L129.0,155.88 L130.0,155.83 L131.0,155.77 L132.0,155.71 L133.0,155.66 L134.0,155.60 L135.0,155.54 L136.0,155.47 L137.0,155.41 L138.0,155.35 L139.0,155.28 L140.0,155.22 L141.0,155.15 L142.0,155.09 L143.0,155.02 L144.0,154.95 L145.0,154.88 L146.0,154.81 L147.0,154.74 L148.0,154.66 L149.0,154.59 L150.0,154.52 L151.0,154.44 L152.0,154.36 L153.0,154.29 L154.0,154.21 L155.0,154.13 L156.0,154.05 L157.0,153.96 L158.0,153.88 L159.0,153.80 L160.0,153.71 L161.0,153.63 L162.0,153.54 L163.0,153.45 L164.0,153.37 L165.0,153.28 L166.0,153.19 L167.0,153.09 L168.0,153.00 L169.0,152.91 L170.0,152.81 L171.0,152.72 L172.0,152.62 L173.0,152.53 L174.0,152.43 L175.0,152.33 L176.0,152.23 L177.0,152.13 L178.0,152.03 L179.0,151.92 L180.0,151.82 L181.0,151.72 L182.0,151.61 L183.0,151.50 L184.0,151.40 L185.0,151.29 L186.0,151.18 L187.0,151.07 L188.0,150.96 L189.0,150.85 L190.0,150.74 L191.0,150.63 L192.0,150.51 L193.0,150.40 L194.0,150.28 L195.0,150.17 L196.0,150.05 L197.0,149.94 L198.0,149.82 L199.0,149.70 L200.0,149.58 L201.0,149.46 L202.0,149.34 L203.0,149.22 L204.0,149.10 L205.0,148.98 L206.0,148.86 L207.0,148.73 L208.0,148.61 L209.0,148.49 L210.0,148.36 L211.0,148.24 L212.0,148.12 L213.0,147.99 L214.0,147.87 L215.0,147.74 L216.0,147.61 L217.0,147.49 L218.0,147.36 L219.0,147.24 L220.0,147.11 L221.0,146.98 L222.0,146.85 L223.0,146.73 L224.0,146.60 L225.0,146.47 L226.0,146.35 L227.0,146.22 L228.0,146.09 L229.0,145.97 L230.0,145.84 L231.0,145.71 L232.0,145.59 L233.0,145.46 L234.0,145.33 L235.0,145.21 L236.0,145.08 L237.0,144.96 L238.0,144.83 L239.0,144.71 L240.0,144.58 L241.0,144.46 L242.0,144.34 L243.0,144.21 L244.0,144.09 L245.0,143.97 L246.0,143.85 L247.0,143.73 L248.0,143.61 L249.0,143.49 L250.0,143.37 L251.0,143.25 L252.0,143.14 L253.0,143.02 L254.0,142.90 L255.0,142.79 L256.0,142.68 L257.0,142.56 L258.0,142.45 L259.0,142.34 L260.0,142.23 L261.0,142.13 L262.0,142.02 L263.0,141.91 L264.0,141.81 L265.0,141.70 L266.0,141.60 L267.0,141.50 L268.0,141.40 L269.0,141.30 L270.0,141.20 L271.0,141.11 L272.0,141.01 L273.0,140.92 L274.0,140.83 L275.0,140.74 L276.0,140.65 L277.0,140.57 L278.0,140.48 L279.0,140.40 L280.0,140.31 L281.0,140.23 L282.0,140.15 L283.0,140.08 L284.0,140.00 L285.0,139.93 L286.0,139.86 L287.0,139.79 L288.0,139.72 L289.0,139.65 L290.0,139.59 L291.0,139.53 L292.0,139.46 L293.0,139.41 L294.0,139.35 L295.0,139.29 L296.0,139.24 L297.0,139.19 L298.0,139.14 L299.0,139.09 L300.0,139.05 L301.0,139.01 L302.0,138.97 L303.0,138.93 L304.0,138.89 L305.0,138.86 L306.0,138.82 L307.0,138.79 L308.0,138.77 L309.0,138.74 L310.0,138.72 L311.0,138.70 L312.0,138.68 L313.0,138.66 L314.0,138.64 L315.0,138.63 L316.0,138.62 L317.0,138.61 L318.0,138.61 L319.0,138.60 L320.0,138.60 L321.0,138.60 L322.0,138.60 L323.0,138.61 L324.0,138.61 L325.0,138.62 L326.0,138.63 L327.0,138.64 L328.0,138.65 L329.0,138.67 L330.0,138.68 L331.0,138.70 L332.0,138.72 L333.0,138.74 L334.0,138.76 L335.0,138.79 L336.0,138.81 L337.0,138.84 L338.0,138.87 L339.0,138.90 L340.0,138.94 L341.0,138.97 L342.0,139.01 L343.0,139.05 L344.0,139.09 L345.0,139.13 L346.0,139.17 L347.0,139.21 L348.0,139.26 L349.0,139.31 L350.0,139.36 L351.0,139.41 L352.0,139.46 L353.0,139.51 L354.0,139.57 L355.0,139.63 L356.0,139.68 L357.0,139.74 L358.0,139.81 L359.0,139.87 L360.0,139.93 L361.0,140.00 L362.0,140.06 L363.0,140.13 L364.0,140.20 L365.0,140.27 L366.0,140.35 L367.0,140.42 L368.0,140.49 L369.0,140.57 L370.0,140.65 L371.0,140.73 L372.0,140.81 L373.0,140.89 L374.0,140.97 L375.0,141.05 L376.0,141.14 L377.0,141.22 L378.0,141.31 L379.0,141.40 L380.0,141.49 L381.0,141.58 L382.0,141.67 L383.0,141.76 L384.0,141.85 L385.0,141.94 L386.0,142.04 L387.0,142.13 L388.0,142.23 L389.0,142.33 L390.0,142.43 L391.0,142.52 L392.0,142.62 L393.0,142.72 L394.0,142.83 L395.0,142.93 L396.0,143.03 L397.0,143.13 L398.0,143.24 L399.0,143.34 L400.0,143.45 L401.0,143.55 L402.0,143.66 L403.0,143.77 L404.0,143.87 L405.0,143.98 L406.0,144.09 L407.0,144.20 L408.0,144.31 L409.0,144.42 L410.0,144.53 L411.0,144.64 L412.0,144.75 L413.0,144.86 L414.0,144.97 L415.0,145.08 L416.0,145.19 L417.0,145.31 L418.0,145.42 L419.0,145.53 L420.0,145.64 L421.0,145.76 L422.0,145.87 L423.0,145.98 L424.0,146.10 L425.0,146.21 L426.0,146.32 L427.0,146.43 L428.0,146.55 L429.0,146.66 L430.0,146.77 L431.0,146.89 L432.0,147.00 L433.0,147.11 L434.0,147.23 L435.0,147.34 L436.0,147.45 L437.0,147.56 L438.0,147.67 L439.0,147.79 L440.0,147.90 L441.0,148.01 L442.0,148.12 L443.0,148.23 L444.0,148.34 L445.0,148.45 L446.0,148.56 L447.0,148.67 L448.0,148.78 L449.0,148.89 L450.0,149.00 L451.0,149.11 L452.0,149.21 L453.0,149.32 L454.0,149.43 L455.0,149.54 L456.0,149.64 L457.0,149.75 L458.0,149.85 L459.0,149.96 L460.0,150.06 L461.0,150.16 L462.0,150.27 L463.0,150.37 L464.0,150.47 L465.0,150.57 L466.0,150.67 L467.0,150.77 L468.0,150.87 L469.0,150.97 L470.0,151.07 L471.0,151.17 L472.0,151.26 L473.0,151.36 L474.0,151.45 L475.0,151.55 L476.0,151.64 L477.0,151.74 L478.0,151.83 L479.0,151.92 L480.0,152.01 L481.0,152.10 L482.0,152.19 L483.0,152.28 L484.0,152.37 L485.0,152.46 L486.0,152.55 L487.0,152.63 L488.0,152.72 L489.0,152.80 L490.0,152.89 L491.0,152.97 L492.0,153.05 L493.0,153.14 L494.0,153.22 L495.0,153.30 L496.0,153.38 L497.0,153.45 L498.0,153.53 L499.0,153.61 L500.0,153.69 L501.0,153.76 L502.0,153.84 L503.0,153.91 L504.0,153.98 L505.0,154.06 L506.0,154.13 L507.0,154.20 L508.0,154.27 L509.0,154.34 L510.0,154.41 L511.0,154.48 L512.0,154.54 L513.0,154.61 L514.0,154.67 L515.0,154.74 L516.0,154.80 L517.0,154.87 L518.0,154.93 L519.0,154.99 L520.0,155.05 L521.0,155.11 L522.0,155.17 L523.0,155.23 L524.0,155.29 L525.0,155.34 L526.0,155.40 L527.0,155.46 L528.0,155.51 L529.0,155.57 L530.0,155.62 L531.0,155.67 L532.0,155.72 L533.0,155.78 L534.0,155.83 L535.0,155.88 L536.0,155.92 L537.0,155.97 L538.0,156.02 L539.0,156.07 L540.0,156.11 L541.0,156.16 L542.0,156.21 L543.0,156.25 L544.0,156.29 L545.0,156.34 L546.0,156.38 L547.0,156.42 L548.0,156.46 L549.0,156.50 L550.0,156.54 L551.0,156.58 L552.0,156.62 L553.0,156.66 L554.0,156.70 L555.0,156.73 L556.0,156.77 L557.0,156.80 L558.0,156.84 L559.0,156.87 L560.0,156.91 L561.0,156.94 L562.0,156.97 L563.0,157.01 L564.0,157.04 L565.0,157.07 L566.0,157.10 L567.0,157.13 L568.0,157.16 L569.0,157.19 L570.0,157.22 L571.0,157.24 L572.0,157.27 L573.0,157.30 L574.0,157.32 L575.0,157.35 L576.0,157.38 L577.0,157.40 L578.0,157.43 L579.0,157.45 L580.0,157.47 L581.0,157.50 L582.0,157.52 L583.0,157.54 L584.0,157.56 L585.0,157.58 L586.0,157.61 L587.0,157.63 L588.0,157.65 L589.0,157.67 L590.0,157.69 L591.0,157.71 L592.0,157.72 L593.0,157.74 L594.0,157.76 L595.0,157.78 L596.0,157.80 L597.0,157.81 L598.0,157.83 L599.0,157.84 L600.0,157.86 L601.0,157.88 L602.0,157.89 L603.0,157.91 L604.0,157.92 L605.0,157.94 L606.0,157.95 L607.0,157.96 L608.0,157.98 L609.0,157.99 L610.0,158.00 L611.0,158.01 L612.0,158.03 L613.0,158.04 L614.0,158.05 L615.0,158.06 L616.0,158.07 L617.0,158.08 L618.0,158.10 L619.0,158.11 L620.0,158.12 L621.0,158.13 L622.0,158.14 L623.0,158.15 L624.0,158.15 L625.0,158.16 L626.0,158.17 L627.0,158.18 L628.0,158.19 L629.0,158.20 L630.0,158.21 L631.0,158.21 L632.0,158.22 L633.0,158.23 L634.0,158.24 L635.0,158.24 L636.0,158.25 L637.0,158.26 L638.0,158.26 L639.0,158.27 L640.0,158.28 L641.0,158.28 L642.0,158.29 L643.0,158.30 L644.0,158.30 L645.0,158.31 L646.0,158.31 L647.0,158.32 L648.0,158.32 L649.0,158.33 L650.0,158.33 L651.0,158.34 L652.0,158.34 L653.0,158.35 L654.0,158.35 L655.0,158.36 L656.0,158.36 L657.0,158.36 L658.0,158.37 L659.0,158.37 L660.0,158.38 L661.0,158.38 L662.0,158.38 L663.0,158.39 L664.0,158.39 L665.0,158.39 L666.0,158.40 L667.0,158.40 L668.0,158.40 L669.0,158.40 L670.0,158.41 L671.0,158.41 L672.0,158.41 L673.0,158.42 L674.0,158.42 L675.0,158.42 L676.0,158.42 L677.0,158.43 L678.0,158.43 L679.0,158.43 L680.0,158.43 L681.0,158.43 L682.0,158.44 L683.0,158.44 L684.0,158.44" fill="none" stroke="#ee8a30" stroke-width="1.9"/></g>
<path d="M64.0,165.7 L64.0,3.4 M682.0,3.4 L682.0,165.7 L64.0,165.7" fill="none" stroke="#636363" stroke-width="1.9"/>
<line x1="63.1" y1="3.4" x2="682.9" y2="3.4" stroke="#b4b4b4" stroke-width="1.8"/>
<line x1="59.8" y1="9.54" x2="64.0" y2="9.54" stroke="#333333" stroke-width="1.1"/>
<text x="23.56" y="15.04" font-size="15.37" fill="#111" textLength="31.84" lengthAdjust="spacingAndGlyphs" >0.08</text>
<line x1="59.8" y1="84.02" x2="64.0" y2="84.02" stroke="#333333" stroke-width="1.1"/>
<text x="23.56" y="89.52" font-size="15.37" fill="#111" textLength="31.84" lengthAdjust="spacingAndGlyphs" >0.04</text>
<line x1="59.8" y1="158.50" x2="64.0" y2="158.50" stroke="#333333" stroke-width="1.1"/>
<text x="46.30" y="164.00" font-size="15.37" fill="#111" textLength="9.10" lengthAdjust="spacingAndGlyphs" >0</text>
<g transform="translate(15.8,0) rotate(-90)"><text x="-162.12" y="0.00" font-size="17.38" fill="#111" textLength="86.56" lengthAdjust="spacingAndGlyphs" >Probability</text><text x="-69.04" y="0.00" font-size="17.38" fill="#111" textLength="62.47" lengthAdjust="spacingAndGlyphs" >Density</text></g>
<text x="651.10" y="34.60" font-size="28.62" fill="#000" textLength="20.30" lengthAdjust="spacingAndGlyphs" >B</text>
<rect x="64.0" y="170.3" width="618.0" height="653.0" fill="none" stroke="#636363" stroke-width="1.9"/>
<line x1="70.55" y1="165.7" x2="70.55" y2="168.30" stroke="#333333" stroke-width="0.9"/>
<line x1="70.55" y1="823.3" x2="70.55" y2="825.5999999999999" stroke="#333333" stroke-width="0.9"/>
<line x1="96.57" y1="165.7" x2="96.57" y2="168.30" stroke="#333333" stroke-width="0.9"/>
<line x1="96.57" y1="823.3" x2="96.57" y2="825.5999999999999" stroke="#333333" stroke-width="0.9"/>
<line x1="122.58" y1="165.7" x2="122.58" y2="168.30" stroke="#333333" stroke-width="0.9"/>
<line x1="122.58" y1="823.3" x2="122.58" y2="825.5999999999999" stroke="#333333" stroke-width="0.9"/>
<line x1="148.60" y1="165.7" x2="148.60" y2="170.30" stroke="#333333" stroke-width="1.2"/>
<line x1="148.60" y1="823.3" x2="148.60" y2="827.0999999999999" stroke="#333333" stroke-width="1.2"/>
<text x="133.65" y="849.50" font-size="24.59" fill="#111" textLength="29.90" lengthAdjust="spacingAndGlyphs" >60</text>
<line x1="174.62" y1="165.7" x2="174.62" y2="168.30" stroke="#333333" stroke-width="0.9"/>
<line x1="174.62" y1="823.3" x2="174.62" y2="825.5999999999999" stroke="#333333" stroke-width="0.9"/>
<line x1="200.63" y1="165.7" x2="200.63" y2="168.30" stroke="#333333" stroke-width="0.9"/>
<line x1="200.63" y1="823.3" x2="200.63" y2="825.5999999999999" stroke="#333333" stroke-width="0.9"/>
<line x1="226.64" y1="165.7" x2="226.64" y2="168.30" stroke="#333333" stroke-width="0.9"/>
<line x1="226.64" y1="823.3" x2="226.64" y2="825.5999999999999" stroke="#333333" stroke-width="0.9"/>
<line x1="252.66" y1="165.7" x2="252.66" y2="168.30" stroke="#333333" stroke-width="0.9"/>
<line x1="252.66" y1="823.3" x2="252.66" y2="825.5999999999999" stroke="#333333" stroke-width="0.9"/>
<line x1="278.67" y1="165.7" x2="278.67" y2="170.30" stroke="#333333" stroke-width="1.2"/>
<line x1="278.67" y1="823.3" x2="278.67" y2="827.0999999999999" stroke="#333333" stroke-width="1.2"/>
<text x="263.72" y="849.50" font-size="24.59" fill="#111" textLength="29.90" lengthAdjust="spacingAndGlyphs" >65</text>
<line x1="304.69" y1="165.7" x2="304.69" y2="168.30" stroke="#333333" stroke-width="0.9"/>
<line x1="304.69" y1="823.3" x2="304.69" y2="825.5999999999999" stroke="#333333" stroke-width="0.9"/>
<line x1="330.71" y1="165.7" x2="330.71" y2="168.30" stroke="#333333" stroke-width="0.9"/>
<line x1="330.71" y1="823.3" x2="330.71" y2="825.5999999999999" stroke="#333333" stroke-width="0.9"/>
<line x1="356.72" y1="165.7" x2="356.72" y2="168.30" stroke="#333333" stroke-width="0.9"/>
<line x1="356.72" y1="823.3" x2="356.72" y2="825.5999999999999" stroke="#333333" stroke-width="0.9"/>
<line x1="382.74" y1="165.7" x2="382.74" y2="168.30" stroke="#333333" stroke-width="0.9"/>
<line x1="382.74" y1="823.3" x2="382.74" y2="825.5999999999999" stroke="#333333" stroke-width="0.9"/>
<line x1="408.75" y1="165.7" x2="408.75" y2="170.30" stroke="#333333" stroke-width="1.2"/>
<line x1="408.75" y1="823.3" x2="408.75" y2="827.0999999999999" stroke="#333333" stroke-width="1.2"/>
<text x="393.80" y="849.50" font-size="24.59" fill="#111" textLength="29.90" lengthAdjust="spacingAndGlyphs" >70</text>
<line x1="434.76" y1="165.7" x2="434.76" y2="168.30" stroke="#333333" stroke-width="0.9"/>
<line x1="434.76" y1="823.3" x2="434.76" y2="825.5999999999999" stroke="#333333" stroke-width="0.9"/>
<line x1="460.78" y1="165.7" x2="460.78" y2="168.30" stroke="#333333" stroke-width="0.9"/>
<line x1="460.78" y1="823.3" x2="460.78" y2="825.5999999999999" stroke="#333333" stroke-width="0.9"/>
<line x1="486.79" y1="165.7" x2="486.79" y2="168.30" stroke="#333333" stroke-width="0.9"/>
<line x1="486.79" y1="823.3" x2="486.79" y2="825.5999999999999" stroke="#333333" stroke-width="0.9"/>
<line x1="512.81" y1="165.7" x2="512.81" y2="168.30" stroke="#333333" stroke-width="0.9"/>
<line x1="512.81" y1="823.3" x2="512.81" y2="825.5999999999999" stroke="#333333" stroke-width="0.9"/>
<line x1="538.83" y1="165.7" x2="538.83" y2="170.30" stroke="#333333" stroke-width="1.2"/>
<line x1="538.83" y1="823.3" x2="538.83" y2="827.0999999999999" stroke="#333333" stroke-width="1.2"/>
<text x="523.87" y="849.50" font-size="24.59" fill="#111" textLength="29.90" lengthAdjust="spacingAndGlyphs" >75</text>
<line x1="564.84" y1="165.7" x2="564.84" y2="168.30" stroke="#333333" stroke-width="0.9"/>
<line x1="564.84" y1="823.3" x2="564.84" y2="825.5999999999999" stroke="#333333" stroke-width="0.9"/>
<line x1="590.86" y1="165.7" x2="590.86" y2="168.30" stroke="#333333" stroke-width="0.9"/>
<line x1="590.86" y1="823.3" x2="590.86" y2="825.5999999999999" stroke="#333333" stroke-width="0.9"/>
<line x1="616.87" y1="165.7" x2="616.87" y2="168.30" stroke="#333333" stroke-width="0.9"/>
<line x1="616.87" y1="823.3" x2="616.87" y2="825.5999999999999" stroke="#333333" stroke-width="0.9"/>
<line x1="642.88" y1="165.7" x2="642.88" y2="168.30" stroke="#333333" stroke-width="0.9"/>
<line x1="642.88" y1="823.3" x2="642.88" y2="825.5999999999999" stroke="#333333" stroke-width="0.9"/>
<line x1="668.90" y1="165.7" x2="668.90" y2="170.30" stroke="#333333" stroke-width="1.2"/>
<line x1="668.90" y1="823.3" x2="668.90" y2="827.0999999999999" stroke="#333333" stroke-width="1.2"/>
<text x="653.95" y="849.50" font-size="24.59" fill="#111" textLength="29.90" lengthAdjust="spacingAndGlyphs" >80</text>
<text x="246.44" y="884.80" font-size="29.57" fill="#111" textLength="20.13" lengthAdjust="spacingAndGlyphs" font-style="italic" >H</text>
<text x="268.72" y="889.00" font-size="20.70" fill="#111" textLength="11.05" lengthAdjust="spacingAndGlyphs" >0</text>
<text x="291.26" y="882.90" font-size="26.82" fill="#111" textLength="7.55" lengthAdjust="spacingAndGlyphs" >[</text>
<text x="302.20" y="884.80" font-size="29.57" fill="#111" textLength="43.56" lengthAdjust="spacingAndGlyphs" >km</text>
<text x="350.60" y="884.80" font-size="29.57" fill="#111" textLength="14.33" lengthAdjust="spacingAndGlyphs" >s</text>
<text x="366.43" y="873.40" font-size="20.70" fill="#111" textLength="27.14" lengthAdjust="spacingAndGlyphs" >−1</text>
<text x="400.43" y="884.80" font-size="29.57" fill="#111" textLength="56.86" lengthAdjust="spacingAndGlyphs" >Mpc</text>
<text x="459.82" y="873.40" font-size="20.70" fill="#111" textLength="27.35" lengthAdjust="spacingAndGlyphs" >−1</text>
<text x="491.44" y="882.90" font-size="26.82" fill="#111" textLength="9.09" lengthAdjust="spacingAndGlyphs" >]</text>
<text x="652.15" y="202.80" font-size="30.74" fill="#000" textLength="18.31" lengthAdjust="spacingAndGlyphs" >A</text>
<rect x="572.9" y="185.4" width="61.4" height="35.0" fill="#fff" stroke="#2a2a2a" stroke-width="1.4"/>
<text x="579.49" y="209.20" font-size="22.90" fill="#111" textLength="47.81" lengthAdjust="spacingAndGlyphs" >Late</text>
<rect x="94.1" y="721.6" width="69.9" height="34.7" fill="#fff" stroke="#2a2a2a" stroke-width="1.4"/>
<text x="101.03" y="745.00" font-size="22.90" fill="#111" textLength="54.82" lengthAdjust="spacingAndGlyphs" >Early</text>
<line x1="65.0" y1="705.8" x2="681.0" y2="705.8" stroke="#cfcfcf" stroke-width="1.3" stroke-dasharray="5.2,4.0"/>
<line x1="109.6" y1="181" x2="109.6" y2="269.5" stroke="#5a5a5a" stroke-width="1.9"/>
<line x1="109.6" y1="283.6" x2="109.6" y2="409" stroke="#5a5a5a" stroke-width="1.9"/>
<line x1="109.6" y1="423.8" x2="109.6" y2="584.8" stroke="#5a5a5a" stroke-width="1.9"/>
<line x1="109.6" y1="599.2" x2="109.6" y2="643.7" stroke="#5a5a5a" stroke-width="1.9"/>
<line x1="109.6" y1="653.4" x2="109.6" y2="698.6" stroke="#5a5a5a" stroke-width="1.9"/>
<g transform="translate(95.2,0) rotate(-90)"><text x="-600.58" y="0.00" font-size="18.13" fill="#7a7a7a" textLength="96.21" lengthAdjust="spacingAndGlyphs" >Completely</text><text x="-498.40" y="0.00" font-size="18.13" fill="#7a7a7a" textLength="108.24" lengthAdjust="spacingAndGlyphs" >Independent</text><text x="-383.97" y="0.00" font-size="18.13" fill="#7a7a7a" textLength="126.87" lengthAdjust="spacingAndGlyphs" >Measurements</text></g>
<line x1="161.61" y1="203.3" x2="387.94" y2="203.3" stroke="#ee8a2e" stroke-width="3.0" stroke-linecap="square"/>
<circle cx="273.47" cy="203.3" r="5.1" fill="#ee8a2e" stroke="#c37125" stroke-width="0.9"/>
<text x="236.59" y="195.60" font-size="19.08" fill="#ea9040" textLength="41.41" lengthAdjust="spacingAndGlyphs" >64.8</text>
<text x="278.30" y="188.10" font-size="13.25" fill="#ea9040" textLength="32.05" lengthAdjust="spacingAndGlyphs" >+4.4</text>
<text x="278.30" y="200.70" font-size="13.25" fill="#ea9040" textLength="32.05" lengthAdjust="spacingAndGlyphs" >−4.3</text>
<text x="185.40" y="222.10" font-size="15.69" fill="#717171" textLength="176.14" lengthAdjust="spacingAndGlyphs" >SN Refsdal (All Models)</text>
<line x1="234.45" y1="250.5" x2="426.96" y2="250.5" stroke="#3f76b0" stroke-width="3.0" stroke-linecap="square"/>
<circle cx="320.30" cy="250.5" r="5.1" fill="#3f76b0" stroke="#336090" stroke-width="0.9"/>
<text x="283.42" y="242.80" font-size="19.08" fill="#4f80b8" textLength="41.41" lengthAdjust="spacingAndGlyphs" >66.6</text>
<text x="325.13" y="235.30" font-size="13.25" fill="#4f80b8" textLength="32.05" lengthAdjust="spacingAndGlyphs" >+4.1</text>
<text x="325.13" y="247.90" font-size="13.25" fill="#4f80b8" textLength="32.05" lengthAdjust="spacingAndGlyphs" >−3.3</text>
<text x="200.02" y="269.30" font-size="15.69" fill="#717171" textLength="240.56" lengthAdjust="spacingAndGlyphs" >SN Refsdal (Grillo-g + Oguri-a*)</text>
<line x1="465.98" y1="294.5" x2="541.43" y2="294.5" stroke="#dc3030" stroke-width="3.0" stroke-linecap="square"/>
<circle cx="505.01" cy="294.5" r="5.1" fill="#dc3030" stroke="#b42727" stroke-width="0.9"/>
<text x="468.12" y="286.80" font-size="19.08" fill="#d84040" textLength="41.41" lengthAdjust="spacingAndGlyphs" >73.7</text>
<text x="509.84" y="279.30" font-size="13.25" fill="#d84040" textLength="32.05" lengthAdjust="spacingAndGlyphs" >+1.4</text>
<text x="509.84" y="291.90" font-size="13.25" fill="#d84040" textLength="32.05" lengthAdjust="spacingAndGlyphs" >−1.5</text>
<text x="420.50" y="313.30" font-size="15.69" fill="#717171" textLength="169.02" lengthAdjust="spacingAndGlyphs" >TDCOSMO-stars+NFW</text>
<line x1="367.13" y1="342.5" x2="671.50" y2="342.5" stroke="#5cac4c" stroke-width="3.0" stroke-linecap="square"/>
<circle cx="525.82" cy="342.5" r="5.1" fill="#5cac4c" stroke="#4b8d3e" stroke-width="0.9"/>
<text x="488.93" y="334.80" font-size="19.08" fill="#64aa58" textLength="41.41" lengthAdjust="spacingAndGlyphs" >74.5</text>
<text x="530.65" y="327.30" font-size="13.25" fill="#64aa58" textLength="32.05" lengthAdjust="spacingAndGlyphs" >+5.6</text>
<text x="530.65" y="339.90" font-size="13.25" fill="#64aa58" textLength="32.05" lengthAdjust="spacingAndGlyphs" >−6.1</text>
<text x="407.97" y="361.30" font-size="15.69" fill="#717171" textLength="235.70" lengthAdjust="spacingAndGlyphs" >TDCOSMO - &quot;free&quot; mass profile</text>
<line x1="257.86" y1="390.7" x2="447.77" y2="390.7" stroke="#e27fc2" stroke-width="3.0" stroke-linecap="square"/>
<circle cx="341.11" cy="390.7" r="5.1" fill="#e27fc2" stroke="#b9689f" stroke-width="0.9"/>
<text x="304.23" y="383.00" font-size="19.08" fill="#de8cc6" textLength="41.41" lengthAdjust="spacingAndGlyphs" >67.4</text>
<text x="345.94" y="375.50" font-size="13.25" fill="#de8cc6" textLength="32.05" lengthAdjust="spacingAndGlyphs" >+4.1</text>
<text x="345.94" y="388.10" font-size="13.25" fill="#de8cc6" textLength="32.05" lengthAdjust="spacingAndGlyphs" >−3.2</text>
<text x="192.51" y="409.50" font-size="15.69" fill="#717171" textLength="297.21" lengthAdjust="spacingAndGlyphs" >TDCOSMO+SLACS - &quot;free&quot; mass profile</text>
<line x1="460.78" y1="438.4" x2="512.81" y2="438.4" stroke="#9e5a34" stroke-width="3.0" stroke-linecap="square"/>
<circle cx="486.79" cy="438.4" r="5.1" fill="#9e5a34" stroke="#81492a" stroke-width="0.9"/>
<text x="449.91" y="430.70" font-size="19.08" fill="#9a6448" textLength="41.41" lengthAdjust="spacingAndGlyphs" >73.0</text>
<text x="491.63" y="423.20" font-size="13.25" fill="#9a6448" textLength="32.05" lengthAdjust="spacingAndGlyphs" >+1.0</text>
<text x="491.63" y="435.80" font-size="13.25" fill="#9a6448" textLength="32.05" lengthAdjust="spacingAndGlyphs" >−1.0</text>
<text x="461.79" y="457.20" font-size="15.69" fill="#717171" textLength="50.00" lengthAdjust="spacingAndGlyphs" >SH0ES</text>
<line x1="354.12" y1="485.7" x2="452.98" y2="485.7" stroke="#8a52aa" stroke-width="3.0" stroke-linecap="square"/>
<circle cx="403.55" cy="485.7" r="5.1" fill="#8a52aa" stroke="#71438b" stroke-width="0.9"/>
<text x="366.66" y="478.00" font-size="19.08" fill="#8a5eac" textLength="41.41" lengthAdjust="spacingAndGlyphs" >69.8</text>
<text x="408.38" y="470.50" font-size="13.25" fill="#8a5eac" textLength="32.05" lengthAdjust="spacingAndGlyphs" >+1.9</text>
<text x="408.38" y="483.10" font-size="13.25" fill="#8a5eac" textLength="32.05" lengthAdjust="spacingAndGlyphs" >−1.9</text>
<text x="382.64" y="504.50" font-size="15.69" fill="#717171" textLength="41.82" lengthAdjust="spacingAndGlyphs" >CCHP</text>
<line x1="302.09" y1="533.4" x2="515.41" y2="533.4" stroke="#8f8f8f" stroke-width="3.0" stroke-linecap="square"/>
<circle cx="408.75" cy="533.4" r="5.1" fill="#8f8f8f" stroke="#757575" stroke-width="0.9"/>
<text x="371.87" y="525.70" font-size="19.08" fill="#989898" textLength="41.41" lengthAdjust="spacingAndGlyphs" >70.0</text>
<text x="413.58" y="518.20" font-size="13.25" fill="#989898" textLength="32.05" lengthAdjust="spacingAndGlyphs" >+4.1</text>
<text x="413.58" y="530.80" font-size="13.25" fill="#989898" textLength="32.05" lengthAdjust="spacingAndGlyphs" >−4.1</text>
<text x="381.42" y="552.20" font-size="15.69" fill="#717171" textLength="54.67" lengthAdjust="spacingAndGlyphs" >SBF SN</text>
<line x1="429.56" y1="577.1" x2="559.64" y2="577.1" stroke="#d43434" stroke-width="3.0" stroke-linecap="square"/>
<circle cx="494.60" cy="577.1" r="5.1" fill="#d43434" stroke="#ad2a2a" stroke-width="0.9"/>
<text x="457.72" y="569.40" font-size="19.08" fill="#d24444" textLength="41.41" lengthAdjust="spacingAndGlyphs" >73.3</text>
<text x="499.43" y="561.90" font-size="13.25" fill="#d24444" textLength="32.05" lengthAdjust="spacingAndGlyphs" >+2.5</text>
<text x="499.43" y="574.50" font-size="13.25" fill="#d24444" textLength="32.05" lengthAdjust="spacingAndGlyphs" >−2.5</text>
<text x="415.19" y="595.90" font-size="15.69" fill="#717171" textLength="158.83" lengthAdjust="spacingAndGlyphs" >SBF TRGB+Cepheids</text>
<line x1="432.16" y1="632.8" x2="588.25" y2="632.8" stroke="#dcda46" stroke-width="3.0" stroke-linecap="square"/>
<circle cx="510.21" cy="632.8" r="5.1" fill="#dcda46" stroke="#b4b239" stroke-width="0.9"/>
<text x="473.33" y="625.10" font-size="19.08" fill="#d6d45c" textLength="41.41" lengthAdjust="spacingAndGlyphs" >73.9</text>
<text x="515.04" y="617.60" font-size="13.25" fill="#d6d45c" textLength="32.05" lengthAdjust="spacingAndGlyphs" >+3.0</text>
<text x="515.04" y="630.20" font-size="13.25" fill="#d6d45c" textLength="32.05" lengthAdjust="spacingAndGlyphs" >−3.0</text>
<text x="493.76" y="651.60" font-size="15.69" fill="#717171" textLength="32.89" lengthAdjust="spacingAndGlyphs" >MCP</text>
<line x1="200.63" y1="680.4" x2="424.36" y2="680.4" stroke="#c98d4e" stroke-width="3.0" stroke-linecap="square"/>
<circle cx="309.89" cy="680.4" r="5.1" fill="#c98d4e" stroke="#a4733f" stroke-width="0.9"/>
<text x="273.01" y="672.70" font-size="19.08" fill="#c4925e" textLength="41.41" lengthAdjust="spacingAndGlyphs" >66.2</text>
<text x="314.72" y="665.20" font-size="13.25" fill="#c4925e" textLength="32.05" lengthAdjust="spacingAndGlyphs" >+4.4</text>
<text x="314.72" y="677.80" font-size="13.25" fill="#c4925e" textLength="32.05" lengthAdjust="spacingAndGlyphs" >−4.2</text>
<text x="267.48" y="699.20" font-size="15.69" fill="#717171" textLength="84.83" lengthAdjust="spacingAndGlyphs" >GW170817</text>
<line x1="328.10" y1="742.8" x2="354.12" y2="742.8" stroke="#787878" stroke-width="3.0" stroke-linecap="square"/>
<circle cx="341.11" cy="742.8" r="5.1" fill="#787878" stroke="#626262" stroke-width="0.9"/>
<text x="304.23" y="735.10" font-size="19.08" fill="#808080" textLength="41.41" lengthAdjust="spacingAndGlyphs" >67.4</text>
<text x="345.94" y="727.60" font-size="13.25" fill="#808080" textLength="32.05" lengthAdjust="spacingAndGlyphs" >+0.5</text>
<text x="345.94" y="740.20" font-size="13.25" fill="#808080" textLength="32.05" lengthAdjust="spacingAndGlyphs" >−0.5</text>
<text x="316.36" y="761.60" font-size="15.69" fill="#717171" textLength="49.50" lengthAdjust="spacingAndGlyphs" >Planck</text>
<line x1="309.89" y1="793.9" x2="372.33" y2="793.9" stroke="#4862d0" stroke-width="3.0" stroke-linecap="butt"/>
<circle cx="341.11" cy="793.9" r="5.1" fill="#4862d0" stroke="#3b50aa" stroke-width="0.9"/>
<text x="304.23" y="786.20" font-size="19.08" fill="#4e66cc" textLength="41.41" lengthAdjust="spacingAndGlyphs" >67.4</text>
<text x="345.94" y="778.70" font-size="13.25" fill="#4e66cc" textLength="32.05" lengthAdjust="spacingAndGlyphs" >+1.2</text>
<text x="345.94" y="791.30" font-size="13.25" fill="#4e66cc" textLength="32.05" lengthAdjust="spacingAndGlyphs" >−1.2</text>
<text x="280.39" y="812.70" font-size="15.69" fill="#717171" textLength="121.44" lengthAdjust="spacingAndGlyphs" >DES+BAO+BBN</text></svg>
</body></html>
